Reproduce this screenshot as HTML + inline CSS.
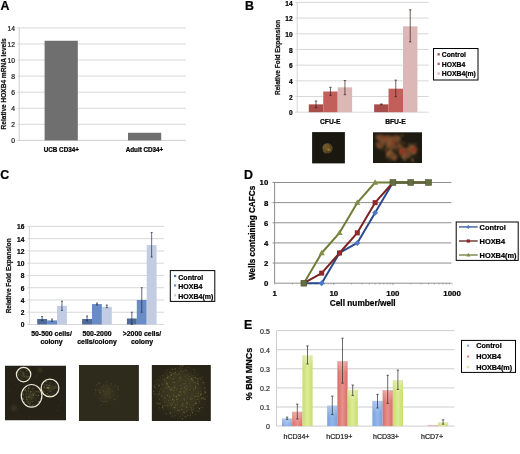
<!DOCTYPE html>
<html><head><meta charset="utf-8"><style>
html,body{margin:0;padding:0;background:#fff;}
body{width:520px;height:454px;overflow:hidden;}
svg{display:block;font-family:"Liberation Sans", sans-serif;filter:blur(0.3px);}
</style></head><body>
<svg width="520" height="454" viewBox="0 0 520 454">
<rect width="520" height="454" fill="#fff"/>
<text x="0.6" y="10.1" font-size="12.4" font-weight="bold" text-anchor="start" fill="#000" stroke="#000" stroke-width="0.22">A</text>
<line x1="17.2" y1="140.4" x2="186" y2="140.4" stroke="#c8c8c8" stroke-width="0.9"/>
<text x="14.9" y="143.4" font-size="6.7" text-anchor="end" fill="#222" stroke="#222" stroke-width="0.22">0</text>
<line x1="17.2" y1="124.32857142857144" x2="186" y2="124.32857142857144" stroke="#d4d4d4" stroke-width="0.9"/>
<text x="14.9" y="127.32857142857144" font-size="6.7" text-anchor="end" fill="#222" stroke="#222" stroke-width="0.22">2</text>
<line x1="17.2" y1="108.25714285714287" x2="186" y2="108.25714285714287" stroke="#d4d4d4" stroke-width="0.9"/>
<text x="14.9" y="111.25714285714287" font-size="6.7" text-anchor="end" fill="#222" stroke="#222" stroke-width="0.22">4</text>
<line x1="17.2" y1="92.18571428571428" x2="186" y2="92.18571428571428" stroke="#d4d4d4" stroke-width="0.9"/>
<text x="14.9" y="95.18571428571428" font-size="6.7" text-anchor="end" fill="#222" stroke="#222" stroke-width="0.22">6</text>
<line x1="17.2" y1="76.11428571428571" x2="186" y2="76.11428571428571" stroke="#d4d4d4" stroke-width="0.9"/>
<text x="14.9" y="79.11428571428571" font-size="6.7" text-anchor="end" fill="#222" stroke="#222" stroke-width="0.22">8</text>
<line x1="17.2" y1="60.042857142857144" x2="186" y2="60.042857142857144" stroke="#d4d4d4" stroke-width="0.9"/>
<text x="14.9" y="63.042857142857144" font-size="6.7" text-anchor="end" fill="#222" stroke="#222" stroke-width="0.22">10</text>
<line x1="17.2" y1="43.97142857142856" x2="186" y2="43.97142857142856" stroke="#d4d4d4" stroke-width="0.9"/>
<text x="14.9" y="46.97142857142856" font-size="6.7" text-anchor="end" fill="#222" stroke="#222" stroke-width="0.22">12</text>
<line x1="17.2" y1="27.89999999999999" x2="186" y2="27.89999999999999" stroke="#d4d4d4" stroke-width="0.9"/>
<text x="14.9" y="30.89999999999999" font-size="6.7" text-anchor="end" fill="#222" stroke="#222" stroke-width="0.22">14</text>
<line x1="19.2" y1="27.9" x2="19.2" y2="140.4" stroke="#c8c8c8" stroke-width="0.9"/>
<rect x="44.6" y="40.75714285714285" width="33.2" height="99.64285714285715" fill="#6f6f6f"/>
<rect x="128" y="132.76607142857142" width="33.2" height="7.633928571428572" fill="#6f6f6f"/>
<text x="61.3" y="152.3" font-size="6.3" font-weight="bold" text-anchor="middle" fill="#000" stroke="#000" stroke-width="0.22">UCB CD34+</text>
<text x="144.5" y="152.4" font-size="6.3" font-weight="bold" text-anchor="middle" fill="#000" stroke="#000" stroke-width="0.22">Adult CD34+</text>
<text x="6.0" y="83.9" font-size="6.55" font-weight="bold" text-anchor="middle" fill="#111" stroke="#111" stroke-width="0.22" transform="rotate(-90 6.0 83.9)">Relative HOXB4 mRNA levels</text>
<text x="245.0" y="9.9" font-size="12.4" font-weight="bold" text-anchor="start" fill="#000" stroke="#000" stroke-width="0.22">B</text>
<line x1="295.2" y1="112.2" x2="428.75" y2="112.2" stroke="#d4d4d4" stroke-width="0.9"/>
<text x="292.6" y="115.4" font-size="6.6" font-weight="bold" text-anchor="end" fill="#000" stroke="#000" stroke-width="0.22">0</text>
<line x1="295.2" y1="96.51428571428572" x2="428.75" y2="96.51428571428572" stroke="#d4d4d4" stroke-width="0.9"/>
<text x="292.6" y="99.71428571428572" font-size="6.6" font-weight="bold" text-anchor="end" fill="#000" stroke="#000" stroke-width="0.22">2</text>
<line x1="295.2" y1="80.82857142857144" x2="428.75" y2="80.82857142857144" stroke="#d4d4d4" stroke-width="0.9"/>
<text x="292.6" y="84.02857142857144" font-size="6.6" font-weight="bold" text-anchor="end" fill="#000" stroke="#000" stroke-width="0.22">4</text>
<line x1="295.2" y1="65.14285714285714" x2="428.75" y2="65.14285714285714" stroke="#d4d4d4" stroke-width="0.9"/>
<text x="292.6" y="68.34285714285714" font-size="6.6" font-weight="bold" text-anchor="end" fill="#000" stroke="#000" stroke-width="0.22">6</text>
<line x1="295.2" y1="49.45714285714286" x2="428.75" y2="49.45714285714286" stroke="#d4d4d4" stroke-width="0.9"/>
<text x="292.6" y="52.657142857142865" font-size="6.6" font-weight="bold" text-anchor="end" fill="#000" stroke="#000" stroke-width="0.22">8</text>
<line x1="295.2" y1="33.77142857142857" x2="428.75" y2="33.77142857142857" stroke="#d4d4d4" stroke-width="0.9"/>
<text x="292.6" y="36.971428571428575" font-size="6.6" font-weight="bold" text-anchor="end" fill="#000" stroke="#000" stroke-width="0.22">10</text>
<line x1="295.2" y1="18.08571428571429" x2="428.75" y2="18.08571428571429" stroke="#d4d4d4" stroke-width="0.9"/>
<text x="292.6" y="21.28571428571429" font-size="6.6" font-weight="bold" text-anchor="end" fill="#000" stroke="#000" stroke-width="0.22">12</text>
<line x1="295.2" y1="2.4000000000000057" x2="428.75" y2="2.4000000000000057" stroke="#d4d4d4" stroke-width="0.9"/>
<text x="292.6" y="5.600000000000006" font-size="6.6" font-weight="bold" text-anchor="end" fill="#000" stroke="#000" stroke-width="0.22">14</text>
<line x1="297.2" y1="2.4" x2="297.2" y2="112.2" stroke="#d4d4d4" stroke-width="0.9"/>
<text x="279.8" y="57.4" font-size="6.5" font-weight="bold" text-anchor="middle" fill="#111" stroke="#111" stroke-width="0.22" transform="rotate(-90 279.8 57.4)">Relative Fold Expansion</text>
<rect x="308.8" y="104.35714285714286" width="14.45" height="7.8428571428571425" fill="#a84e4a"/>
<line x1="316.02500000000003" y1="100.98471428571429" x2="316.02500000000003" y2="107.72957142857143" stroke="#3a1a18" stroke-width="0.7"/>
<line x1="314.82500000000005" y1="100.98471428571429" x2="317.225" y2="100.98471428571429" stroke="#3a1a18" stroke-width="0.7"/>
<line x1="314.82500000000005" y1="107.72957142857143" x2="317.225" y2="107.72957142857143" stroke="#3a1a18" stroke-width="0.7"/>
<rect x="323.25" y="91.49485714285714" width="14.45" height="20.705142857142857" fill="#c25f5b"/>
<line x1="330.475" y1="87.33814285714286" x2="330.475" y2="95.41628571428572" stroke="#3a1a18" stroke-width="0.7"/>
<line x1="329.27500000000003" y1="87.33814285714286" x2="331.675" y2="87.33814285714286" stroke="#3a1a18" stroke-width="0.7"/>
<line x1="329.27500000000003" y1="95.41628571428572" x2="331.675" y2="95.41628571428572" stroke="#3a1a18" stroke-width="0.7"/>
<rect x="337.7" y="87.33814285714286" width="14.45" height="24.86185714285714" fill="#dbb7b6"/>
<line x1="344.925" y1="80.59328571428571" x2="344.925" y2="94.71042857142858" stroke="#3a1a18" stroke-width="0.7"/>
<line x1="343.725" y1="80.59328571428571" x2="346.125" y2="80.59328571428571" stroke="#3a1a18" stroke-width="0.7"/>
<line x1="343.725" y1="94.71042857142858" x2="346.125" y2="94.71042857142858" stroke="#3a1a18" stroke-width="0.7"/>
<rect x="374.1" y="104.35714285714286" width="14.45" height="7.8428571428571425" fill="#a84e4a"/>
<line x1="381.32500000000005" y1="103.965" x2="381.32500000000005" y2="104.74928571428572" stroke="#3a1a18" stroke-width="0.7"/>
<line x1="380.12500000000006" y1="103.965" x2="382.52500000000003" y2="103.965" stroke="#3a1a18" stroke-width="0.7"/>
<line x1="380.12500000000006" y1="104.74928571428572" x2="382.52500000000003" y2="104.74928571428572" stroke="#3a1a18" stroke-width="0.7"/>
<rect x="388.55" y="88.67142857142858" width="14.45" height="23.52857142857143" fill="#c25f5b"/>
<line x1="395.77500000000003" y1="80.1227142857143" x2="395.77500000000003" y2="96.5927142857143" stroke="#3a1a18" stroke-width="0.7"/>
<line x1="394.57500000000005" y1="80.1227142857143" x2="396.975" y2="80.1227142857143" stroke="#3a1a18" stroke-width="0.7"/>
<line x1="394.57500000000005" y1="96.5927142857143" x2="396.975" y2="96.5927142857143" stroke="#3a1a18" stroke-width="0.7"/>
<rect x="403.0" y="26.320714285714303" width="14.45" height="85.8792857142857" fill="#dbb7b6"/>
<line x1="410.225" y1="9.772285714285715" x2="410.225" y2="41.84957142857142" stroke="#3a1a18" stroke-width="0.7"/>
<line x1="409.02500000000003" y1="9.772285714285715" x2="411.425" y2="9.772285714285715" stroke="#3a1a18" stroke-width="0.7"/>
<line x1="409.02500000000003" y1="41.84957142857142" x2="411.425" y2="41.84957142857142" stroke="#3a1a18" stroke-width="0.7"/>
<text x="330.2" y="124.2" font-size="6.7" font-weight="bold" text-anchor="middle" fill="#000" stroke="#000" stroke-width="0.22">CFU-E</text>
<text x="395.4" y="124.2" font-size="6.7" font-weight="bold" text-anchor="middle" fill="#000" stroke="#000" stroke-width="0.22">BFU-E</text>
<rect x="433.5" y="48.5" width="44.5" height="31.5" fill="#fff" stroke="#000" stroke-width="1"/>
<rect x="437.5" y="53.2" width="2.3" height="2.3" fill="#a84e4a"/>
<text x="441.8" y="57.0" font-size="6.8" font-weight="bold" text-anchor="start" fill="#000" stroke="#000" stroke-width="0.22">Control</text>
<rect x="437.5" y="62.7" width="2.3" height="2.3" fill="#c25f5b"/>
<text x="441.8" y="66.5" font-size="6.8" font-weight="bold" text-anchor="start" fill="#000" stroke="#000" stroke-width="0.22">HOXB4</text>
<rect x="437.5" y="72.4" width="2.3" height="2.3" fill="#dbb7b6"/>
<text x="441.8" y="76.2" font-size="6.8" font-weight="bold" text-anchor="start" fill="#000" stroke="#000" stroke-width="0.22">HOXB4(m)</text>
<defs>
<radialGradient id="cfu" cx="0.5" cy="0.5" r="0.5"><stop offset="0" stop-color="#9a8840"/><stop offset="0.6" stop-color="#7c6a30"/><stop offset="1" stop-color="#1a1610" stop-opacity="0"/></radialGradient>
<radialGradient id="bfu1" cx="0.5" cy="0.5" r="0.5"><stop offset="0" stop-color="#8a4a28"/><stop offset="0.7" stop-color="#6a3a20"/><stop offset="1" stop-color="#1e1a12" stop-opacity="0"/></radialGradient>
<radialGradient id="bfu2" cx="0.5" cy="0.5" r="0.5"><stop offset="0" stop-color="#c02a18"/><stop offset="0.6" stop-color="#8a3020"/><stop offset="1" stop-color="#1e1a12" stop-opacity="0"/></radialGradient>
<radialGradient id="c2" cx="0.5" cy="0.5" r="0.5"><stop offset="0" stop-color="#423e24"/><stop offset="1" stop-color="#2f2b1c" stop-opacity="0"/></radialGradient>
<radialGradient id="c3" cx="0.5" cy="0.5" r="0.5"><stop offset="0" stop-color="#3e3a22"/><stop offset="0.6" stop-color="#38341f"/><stop offset="1" stop-color="#282417" stop-opacity="0"/></radialGradient>
<radialGradient id="c1b" cx="0.5" cy="0.5" r="0.5"><stop offset="0" stop-color="#3e3c24"/><stop offset="1" stop-color="#29251a" stop-opacity="0"/></radialGradient>
<linearGradient id="eb" x1="0" x2="1"><stop offset="0" stop-color="#7aa2dc"/><stop offset="0.5" stop-color="#93b7ec"/><stop offset="1" stop-color="#7aa2dc"/></linearGradient>
<linearGradient id="er" x1="0" x2="1"><stop offset="0" stop-color="#d86e68"/><stop offset="0.5" stop-color="#e8908a"/><stop offset="1" stop-color="#d86e68"/></linearGradient>
<linearGradient id="eg" x1="0" x2="1"><stop offset="0" stop-color="#c8dc70"/><stop offset="0.5" stop-color="#dcec96"/><stop offset="1" stop-color="#c8dc70"/></linearGradient>
</defs>
<rect x="312.1" y="132.1" width="32.8" height="31.3" fill="#1a1610"/>
<defs><filter id="bl2" x="-20%" y="-20%" width="140%" height="140%"><feGaussianBlur stdDeviation="0.8"/></filter><filter id="bl3" x="-20%" y="-20%" width="140%" height="140%"><feGaussianBlur stdDeviation="0.5"/></filter><clipPath id="mb1"><rect x="312.1" y="132.1" width="32.8" height="31.3"/></clipPath><clipPath id="mb2"><rect x="373" y="132.3" width="49" height="30.7"/></clipPath></defs>
<g clip-path="url(#mb1)" filter="url(#bl3)">
<circle cx="327.5" cy="148.2" r="5.2" fill="#504020"/>
<circle cx="326.5" cy="147.2" r="3.4" fill="#665428"/>
<circle cx="329" cy="149.5" r="1.8" fill="#74602c"/>
<circle cx="324.8" cy="150.2" r="1.5" fill="#625024"/>
<circle cx="324.6" cy="149.0" r="1.05" fill="#4a3818" fill-opacity="0.53"/>
<circle cx="327.9" cy="147.4" r="0.98" fill="#4a3818" fill-opacity="0.61"/>
<circle cx="327.4" cy="147.7" r="0.68" fill="#8a6e30" fill-opacity="0.57"/>
<circle cx="329.7" cy="146.2" r="0.86" fill="#4a3818" fill-opacity="0.78"/>
<circle cx="325.6" cy="145.7" r="0.59" fill="#8a6e30" fill-opacity="0.72"/>
<circle cx="327.5" cy="148.3" r="1.03" fill="#8a6e30" fill-opacity="0.69"/>
<circle cx="325.9" cy="150.8" r="0.62" fill="#7a5a26" fill-opacity="0.62"/>
<circle cx="324.0" cy="148.2" r="0.77" fill="#9a7e3a" fill-opacity="0.50"/>
<circle cx="322.9" cy="146.7" r="0.55" fill="#9a7e3a" fill-opacity="0.46"/>
<circle cx="327.5" cy="149.6" r="0.54" fill="#8a6e30" fill-opacity="0.50"/>
<circle cx="328.4" cy="146.6" r="1.07" fill="#8a6e30" fill-opacity="0.41"/>
<circle cx="327.5" cy="148.1" r="0.73" fill="#4a3818" fill-opacity="0.51"/>
<circle cx="326.4" cy="147.8" r="0.90" fill="#9a7e3a" fill-opacity="0.34"/>
<circle cx="324.9" cy="152.4" r="0.95" fill="#8a6e30" fill-opacity="0.37"/>
<circle cx="327.3" cy="148.1" r="0.78" fill="#4a3818" fill-opacity="0.39"/>
<circle cx="325.2" cy="147.4" r="0.61" fill="#7a5a26" fill-opacity="0.51"/>
<circle cx="325.8" cy="149.5" r="1.09" fill="#8a6e30" fill-opacity="0.43"/>
<circle cx="331.3" cy="147.5" r="0.68" fill="#8a6e30" fill-opacity="0.41"/>
<circle cx="323.9" cy="150.8" r="0.89" fill="#8a6e30" fill-opacity="0.32"/>
<circle cx="328.6" cy="150.0" r="0.51" fill="#9a7e3a" fill-opacity="0.72"/>
<circle cx="327.0" cy="148.4" r="0.63" fill="#7a5a26" fill-opacity="0.31"/>
<circle cx="325.2" cy="150.5" r="0.58" fill="#4a3818" fill-opacity="0.72"/>
<circle cx="328.6" cy="149.7" r="0.88" fill="#9a7e3a" fill-opacity="0.75"/>
<circle cx="327.8" cy="147.1" r="0.61" fill="#7a5a26" fill-opacity="0.64"/>
<circle cx="325.5" cy="149.8" r="0.55" fill="#8a6e30" fill-opacity="0.35"/>
<circle cx="332.0" cy="149.4" r="0.64" fill="#4a3818" fill-opacity="0.43"/>
<circle cx="328.6" cy="145.5" r="0.68" fill="#7a5a26" fill-opacity="0.76"/>
<circle cx="327.9" cy="148.1" r="0.79" fill="#8a6e30" fill-opacity="0.44"/>
</g>
<rect x="373" y="132.3" width="49" height="30.7" fill="#1e1a12"/>
<g clip-path="url(#mb2)" filter="url(#bl2)">
<ellipse cx="381" cy="138" rx="5" ry="3.5" fill="#6e4428" fill-opacity="0.95"/>
<ellipse cx="388" cy="140" rx="6" ry="5" fill="#6e4428" fill-opacity="0.95"/>
<ellipse cx="396" cy="139" rx="5" ry="4" fill="#6e4428" fill-opacity="0.95"/>
<ellipse cx="380" cy="145" rx="4" ry="3.5" fill="#6e4428" fill-opacity="0.95"/>
<ellipse cx="391" cy="146" rx="5" ry="3.5" fill="#6e4428" fill-opacity="0.95"/>
<ellipse cx="399" cy="146" rx="3" ry="3" fill="#6e4428" fill-opacity="0.95"/>
<ellipse cx="390" cy="154" rx="4" ry="4" fill="#6e4428" fill-opacity="0.95"/>
<ellipse cx="394" cy="157" rx="3.5" ry="3.5" fill="#6e4428" fill-opacity="0.95"/>
<ellipse cx="403" cy="152" rx="4" ry="5.5" fill="#6e4428" fill-opacity="0.95"/>
<ellipse cx="412" cy="150" rx="5.5" ry="5" fill="#6e4428" fill-opacity="0.95"/>
<ellipse cx="408" cy="155" rx="3" ry="3" fill="#6e4428" fill-opacity="0.95"/>
<circle cx="386.0" cy="148.7" r="0.80" fill="#b07a44" fill-opacity="0.40"/>
<circle cx="402.3" cy="135.8" r="0.51" fill="#b07a44" fill-opacity="0.52"/>
<circle cx="386.9" cy="140.3" r="1.30" fill="#b07a44" fill-opacity="0.34"/>
<circle cx="411.1" cy="146.9" r="1.01" fill="#b07a44" fill-opacity="0.18"/>
<circle cx="402.7" cy="157.4" r="0.92" fill="#b07a44" fill-opacity="0.47"/>
<circle cx="407.8" cy="150.0" r="0.74" fill="#b07a44" fill-opacity="0.12"/>
<circle cx="412.4" cy="146.8" r="1.08" fill="#b07a44" fill-opacity="0.54"/>
<circle cx="406.0" cy="158.9" r="0.82" fill="#b07a44" fill-opacity="0.50"/>
<circle cx="394.7" cy="159.3" r="1.20" fill="#b07a44" fill-opacity="0.15"/>
<circle cx="381.7" cy="139.9" r="1.27" fill="#b07a44" fill-opacity="0.32"/>
<circle cx="402.3" cy="142.1" r="0.91" fill="#b07a44" fill-opacity="0.29"/>
<circle cx="390.7" cy="149.8" r="0.97" fill="#b07a44" fill-opacity="0.55"/>
<circle cx="404.6" cy="159.1" r="1.19" fill="#b07a44" fill-opacity="0.60"/>
<circle cx="412.1" cy="160.0" r="1.22" fill="#b07a44" fill-opacity="0.38"/>
<circle cx="410.9" cy="149.5" r="0.73" fill="#b07a44" fill-opacity="0.13"/>
<circle cx="411.9" cy="160.7" r="0.57" fill="#b07a44" fill-opacity="0.50"/>
<circle cx="393.2" cy="138.1" r="0.74" fill="#b07a44" fill-opacity="0.48"/>
<circle cx="401.8" cy="135.2" r="1.07" fill="#b07a44" fill-opacity="0.27"/>
<circle cx="413.0" cy="160.5" r="0.90" fill="#b07a44" fill-opacity="0.60"/>
<circle cx="389.0" cy="136.1" r="0.98" fill="#b07a44" fill-opacity="0.12"/>
<circle cx="384.3" cy="145.0" r="0.99" fill="#b07a44" fill-opacity="0.18"/>
<circle cx="389.2" cy="159.9" r="1.22" fill="#b07a44" fill-opacity="0.29"/>
<circle cx="395.3" cy="148.0" r="1.02" fill="#b07a44" fill-opacity="0.40"/>
<circle cx="399.5" cy="150.7" r="1.25" fill="#b07a44" fill-opacity="0.35"/>
<circle cx="394.1" cy="153.4" r="0.69" fill="#b07a44" fill-opacity="0.25"/>
<circle cx="417.1" cy="148.1" r="0.94" fill="#b07a44" fill-opacity="0.11"/>
<circle cx="393.4" cy="149.7" r="0.52" fill="#b07a44" fill-opacity="0.41"/>
<circle cx="402.6" cy="135.6" r="1.00" fill="#b07a44" fill-opacity="0.33"/>
<circle cx="404.5" cy="143.5" r="1.07" fill="#b07a44" fill-opacity="0.47"/>
<circle cx="376.9" cy="135.6" r="1.04" fill="#b07a44" fill-opacity="0.58"/>
<circle cx="386.5" cy="146.3" r="0.97" fill="#b07a44" fill-opacity="0.26"/>
<circle cx="391.3" cy="142.4" r="0.80" fill="#b07a44" fill-opacity="0.40"/>
<circle cx="388.6" cy="144.2" r="1.12" fill="#b07a44" fill-opacity="0.11"/>
<circle cx="399.9" cy="153.8" r="0.75" fill="#b07a44" fill-opacity="0.21"/>
<circle cx="383.9" cy="145.8" r="1.06" fill="#b07a44" fill-opacity="0.15"/>
<circle cx="389.5" cy="143.0" r="1.17" fill="#b07a44" fill-opacity="0.32"/>
<circle cx="390.1" cy="151.6" r="1.21" fill="#b07a44" fill-opacity="0.33"/>
<circle cx="385.5" cy="137.3" r="0.92" fill="#b07a44" fill-opacity="0.20"/>
<circle cx="409.9" cy="156.6" r="0.65" fill="#b07a44" fill-opacity="0.24"/>
<circle cx="409.9" cy="151.3" r="1.15" fill="#b07a44" fill-opacity="0.27"/>
<circle cx="381.4" cy="141.9" r="1.14" fill="#b07a44" fill-opacity="0.24"/>
<circle cx="390.5" cy="145.3" r="0.84" fill="#b07a44" fill-opacity="0.30"/>
<circle cx="413.0" cy="160.6" r="0.85" fill="#b07a44" fill-opacity="0.58"/>
<circle cx="407.3" cy="156.6" r="1.03" fill="#b07a44" fill-opacity="0.36"/>
<circle cx="388.1" cy="143.2" r="0.68" fill="#b07a44" fill-opacity="0.13"/>
<circle cx="400.7" cy="141.7" r="1.15" fill="#b07a44" fill-opacity="0.12"/>
<circle cx="414.0" cy="152.7" r="1.24" fill="#b07a44" fill-opacity="0.55"/>
<circle cx="413.8" cy="149.6" r="0.51" fill="#b07a44" fill-opacity="0.47"/>
<circle cx="383.2" cy="142.1" r="1.03" fill="#b07a44" fill-opacity="0.36"/>
<circle cx="393.4" cy="159.4" r="0.99" fill="#b07a44" fill-opacity="0.27"/>
<circle cx="386.6" cy="157.3" r="0.88" fill="#b07a44" fill-opacity="0.49"/>
<circle cx="390.8" cy="139.3" r="0.93" fill="#b07a44" fill-opacity="0.51"/>
<circle cx="414.7" cy="155.8" r="1.16" fill="#b07a44" fill-opacity="0.10"/>
<circle cx="402.4" cy="157.3" r="0.54" fill="#b07a44" fill-opacity="0.24"/>
<circle cx="387.3" cy="148.2" r="0.84" fill="#b07a44" fill-opacity="0.34"/>
<circle cx="378.3" cy="137.4" r="0.60" fill="#b07a44" fill-opacity="0.13"/>
<circle cx="416.9" cy="157.1" r="0.57" fill="#b07a44" fill-opacity="0.35"/>
<circle cx="389.3" cy="142.5" r="0.78" fill="#b07a44" fill-opacity="0.42"/>
<circle cx="400.6" cy="143.7" r="0.65" fill="#b07a44" fill-opacity="0.26"/>
<circle cx="381.2" cy="149.0" r="1.07" fill="#b07a44" fill-opacity="0.29"/>
<circle cx="379.4" cy="138.8" r="0.80" fill="#b07a44" fill-opacity="0.40"/>
<circle cx="408.9" cy="144.3" r="1.14" fill="#b07a44" fill-opacity="0.41"/>
<circle cx="394.1" cy="144.1" r="0.90" fill="#b07a44" fill-opacity="0.45"/>
<circle cx="393.7" cy="152.7" r="0.87" fill="#b07a44" fill-opacity="0.22"/>
<circle cx="398.5" cy="152.8" r="0.56" fill="#b07a44" fill-opacity="0.31"/>
<circle cx="393.9" cy="157.8" r="1.25" fill="#b07a44" fill-opacity="0.29"/>
<circle cx="413.7" cy="155.4" r="0.71" fill="#b07a44" fill-opacity="0.33"/>
<circle cx="403.8" cy="158.0" r="1.13" fill="#b07a44" fill-opacity="0.43"/>
<circle cx="406.8" cy="149.2" r="0.58" fill="#b07a44" fill-opacity="0.39"/>
<circle cx="376.2" cy="137.9" r="1.12" fill="#b07a44" fill-opacity="0.12"/>
<circle cx="379.9" cy="136.7" r="1.20" fill="#b07a44" fill-opacity="0.19"/>
<circle cx="404.3" cy="156.6" r="1.26" fill="#b07a44" fill-opacity="0.39"/>
<circle cx="408.2" cy="147.8" r="1.07" fill="#b07a44" fill-opacity="0.15"/>
<circle cx="407.5" cy="159.2" r="0.55" fill="#b07a44" fill-opacity="0.26"/>
<circle cx="399.7" cy="156.4" r="0.69" fill="#b07a44" fill-opacity="0.19"/>
<circle cx="386.5" cy="150.6" r="1.10" fill="#b07a44" fill-opacity="0.30"/>
<circle cx="391.4" cy="144.7" r="0.78" fill="#b07a44" fill-opacity="0.31"/>
<circle cx="379.5" cy="147.5" r="1.28" fill="#b07a44" fill-opacity="0.31"/>
<circle cx="405.0" cy="154.4" r="1.04" fill="#b07a44" fill-opacity="0.36"/>
<circle cx="396.3" cy="151.4" r="1.22" fill="#b07a44" fill-opacity="0.17"/>
<circle cx="414.5" cy="148.0" r="0.85" fill="#b07a44" fill-opacity="0.46"/>
<circle cx="383.8" cy="141.2" r="0.66" fill="#b07a44" fill-opacity="0.39"/>
<circle cx="389.2" cy="140.3" r="1.05" fill="#b07a44" fill-opacity="0.58"/>
<circle cx="388.4" cy="153.0" r="0.83" fill="#b07a44" fill-opacity="0.53"/>
<circle cx="400.6" cy="141.2" r="0.67" fill="#b07a44" fill-opacity="0.11"/>
<circle cx="396.1" cy="144.3" r="0.64" fill="#b07a44" fill-opacity="0.28"/>
<circle cx="389.5" cy="154.9" r="0.61" fill="#b07a44" fill-opacity="0.60"/>
<circle cx="396.1" cy="150.2" r="0.87" fill="#b07a44" fill-opacity="0.52"/>
<circle cx="410.5" cy="149.0" r="0.89" fill="#b07a44" fill-opacity="0.46"/>
<circle cx="412.0" cy="144.8" r="1.09" fill="#b07a44" fill-opacity="0.58"/>
<circle cx="395.6" cy="140.2" r="0.69" fill="#b07a44" fill-opacity="0.46"/>
<circle cx="404.4" cy="159.9" r="1.18" fill="#b07a44" fill-opacity="0.22"/>
<circle cx="384.0" cy="141.0" r="0.65" fill="#b07a44" fill-opacity="0.45"/>
<circle cx="412.1" cy="158.3" r="0.70" fill="#b07a44" fill-opacity="0.53"/>
<circle cx="389.2" cy="145.4" r="1.08" fill="#b07a44" fill-opacity="0.14"/>
<circle cx="388.3" cy="143.6" r="0.96" fill="#b07a44" fill-opacity="0.44"/>
<circle cx="376.3" cy="143.0" r="0.85" fill="#b07a44" fill-opacity="0.34"/>
<circle cx="384.8" cy="149.8" r="1.26" fill="#b07a44" fill-opacity="0.30"/>
<circle cx="398.9" cy="137.2" r="0.72" fill="#b07a44" fill-opacity="0.43"/>
<circle cx="415.5" cy="144.1" r="1.12" fill="#b07a44" fill-opacity="0.48"/>
<circle cx="388.4" cy="152.2" r="1.02" fill="#b07a44" fill-opacity="0.50"/>
<circle cx="387.2" cy="154.4" r="1.27" fill="#b07a44" fill-opacity="0.44"/>
<circle cx="398.5" cy="137.1" r="0.90" fill="#b07a44" fill-opacity="0.28"/>
<circle cx="406.2" cy="152.3" r="0.95" fill="#b07a44" fill-opacity="0.19"/>
<circle cx="403.1" cy="151.0" r="0.64" fill="#b07a44" fill-opacity="0.54"/>
<circle cx="389.9" cy="153.5" r="0.98" fill="#b07a44" fill-opacity="0.38"/>
<circle cx="403.2" cy="146.4" r="0.75" fill="#b07a44" fill-opacity="0.19"/>
<circle cx="407.7" cy="148.7" r="1.09" fill="#b07a44" fill-opacity="0.28"/>
<circle cx="387.2" cy="144.4" r="1.20" fill="#b07a44" fill-opacity="0.12"/>
<circle cx="397.2" cy="140.7" r="1.12" fill="#b07a44" fill-opacity="0.28"/>
<circle cx="413.5" cy="149.5" r="2.4" fill="#a82e1e" fill-opacity="0.85"/>
<circle cx="402.5" cy="151.5" r="2.4" fill="#a82e1e" fill-opacity="0.85"/>
<circle cx="393" cy="143" r="1.4" fill="#a82e1e" fill-opacity="0.85"/>
<circle cx="386" cy="139" r="1.2" fill="#a82e1e" fill-opacity="0.85"/>
</g>
<text x="0.3" y="179.2" font-size="12.4" font-weight="bold" text-anchor="start" fill="#000" stroke="#000" stroke-width="0.22">C</text>
<line x1="27.4" y1="324.5" x2="164.25" y2="324.5" stroke="#d4d4d4" stroke-width="0.9"/>
<text x="24.4" y="327.4" font-size="6.6" font-weight="bold" text-anchor="end" fill="#000" stroke="#000" stroke-width="0.22">0</text>
<line x1="27.4" y1="312.2375" x2="164.25" y2="312.2375" stroke="#d4d4d4" stroke-width="0.9"/>
<text x="24.4" y="315.1375" font-size="6.6" font-weight="bold" text-anchor="end" fill="#000" stroke="#000" stroke-width="0.22">2</text>
<line x1="27.4" y1="299.975" x2="164.25" y2="299.975" stroke="#d4d4d4" stroke-width="0.9"/>
<text x="24.4" y="302.875" font-size="6.6" font-weight="bold" text-anchor="end" fill="#000" stroke="#000" stroke-width="0.22">4</text>
<line x1="27.4" y1="287.7125" x2="164.25" y2="287.7125" stroke="#d4d4d4" stroke-width="0.9"/>
<text x="24.4" y="290.61249999999995" font-size="6.6" font-weight="bold" text-anchor="end" fill="#000" stroke="#000" stroke-width="0.22">6</text>
<line x1="27.4" y1="275.45" x2="164.25" y2="275.45" stroke="#d4d4d4" stroke-width="0.9"/>
<text x="24.4" y="278.34999999999997" font-size="6.6" font-weight="bold" text-anchor="end" fill="#000" stroke="#000" stroke-width="0.22">8</text>
<line x1="27.4" y1="263.1875" x2="164.25" y2="263.1875" stroke="#d4d4d4" stroke-width="0.9"/>
<text x="24.4" y="266.0875" font-size="6.6" font-weight="bold" text-anchor="end" fill="#000" stroke="#000" stroke-width="0.22">10</text>
<line x1="27.4" y1="250.925" x2="164.25" y2="250.925" stroke="#d4d4d4" stroke-width="0.9"/>
<text x="24.4" y="253.82500000000002" font-size="6.6" font-weight="bold" text-anchor="end" fill="#000" stroke="#000" stroke-width="0.22">12</text>
<line x1="27.4" y1="238.66250000000002" x2="164.25" y2="238.66250000000002" stroke="#d4d4d4" stroke-width="0.9"/>
<text x="24.4" y="241.56250000000003" font-size="6.6" font-weight="bold" text-anchor="end" fill="#000" stroke="#000" stroke-width="0.22">14</text>
<line x1="27.4" y1="226.4" x2="164.25" y2="226.4" stroke="#d4d4d4" stroke-width="0.9"/>
<text x="24.4" y="229.3" font-size="6.6" font-weight="bold" text-anchor="end" fill="#000" stroke="#000" stroke-width="0.22">16</text>
<line x1="29.4" y1="226.4" x2="29.4" y2="324.5" stroke="#d4d4d4" stroke-width="0.9"/>
<text x="10.6" y="275.8" font-size="6.5" font-weight="bold" text-anchor="middle" fill="#111" stroke="#111" stroke-width="0.22" transform="rotate(-90 10.6 275.8)">Relative Fold Expansion</text>
<rect x="37.2" y="318.981875" width="9.9" height="5.5181249999999995" fill="#4f6b9c"/>
<line x1="42.150000000000006" y1="316.529375" x2="42.150000000000006" y2="320.5146875" stroke="#1e2a48" stroke-width="0.7"/>
<line x1="41.150000000000006" y1="316.529375" x2="43.150000000000006" y2="316.529375" stroke="#1e2a48" stroke-width="0.7"/>
<line x1="41.150000000000006" y1="320.5146875" x2="43.150000000000006" y2="320.5146875" stroke="#1e2a48" stroke-width="0.7"/>
<rect x="47.1" y="320.3920625" width="9.9" height="4.1079375" fill="#6a8cc6"/>
<line x1="52.050000000000004" y1="318.981875" x2="52.050000000000004" y2="321.434375" stroke="#1e2a48" stroke-width="0.7"/>
<line x1="51.050000000000004" y1="318.981875" x2="53.050000000000004" y2="318.981875" stroke="#1e2a48" stroke-width="0.7"/>
<line x1="51.050000000000004" y1="321.434375" x2="53.050000000000004" y2="321.434375" stroke="#1e2a48" stroke-width="0.7"/>
<rect x="57.0" y="305.7996875" width="9.9" height="18.7003125" fill="#c2cce2"/>
<line x1="61.95" y1="301.20125" x2="61.95" y2="310.398125" stroke="#1e2a48" stroke-width="0.7"/>
<line x1="60.95" y1="301.20125" x2="62.95" y2="301.20125" stroke="#1e2a48" stroke-width="0.7"/>
<line x1="60.95" y1="310.398125" x2="62.95" y2="310.398125" stroke="#1e2a48" stroke-width="0.7"/>
<rect x="82.1" y="318.981875" width="9.9" height="5.5181249999999995" fill="#4f6b9c"/>
<line x1="87.05" y1="315.9775625" x2="87.05" y2="320.82125" stroke="#1e2a48" stroke-width="0.7"/>
<line x1="86.05" y1="315.9775625" x2="88.05" y2="315.9775625" stroke="#1e2a48" stroke-width="0.7"/>
<line x1="86.05" y1="320.82125" x2="88.05" y2="320.82125" stroke="#1e2a48" stroke-width="0.7"/>
<rect x="92.0" y="304.0829375" width="9.9" height="20.4170625" fill="#6a8cc6"/>
<line x1="96.95" y1="303.040625" x2="96.95" y2="305.002625" stroke="#1e2a48" stroke-width="0.7"/>
<line x1="95.95" y1="303.040625" x2="97.95" y2="303.040625" stroke="#1e2a48" stroke-width="0.7"/>
<line x1="95.95" y1="305.002625" x2="97.95" y2="305.002625" stroke="#1e2a48" stroke-width="0.7"/>
<rect x="101.89999999999999" y="306.9033125" width="9.9" height="17.596687499999998" fill="#c2cce2"/>
<line x1="106.85" y1="305.002625" x2="106.85" y2="307.700375" stroke="#1e2a48" stroke-width="0.7"/>
<line x1="105.85" y1="305.002625" x2="107.85" y2="305.002625" stroke="#1e2a48" stroke-width="0.7"/>
<line x1="105.85" y1="307.700375" x2="107.85" y2="307.700375" stroke="#1e2a48" stroke-width="0.7"/>
<rect x="126.9" y="318.491375" width="9.9" height="6.008624999999999" fill="#4f6b9c"/>
<line x1="131.85" y1="312.2375" x2="131.85" y2="324.377375" stroke="#1e2a48" stroke-width="0.7"/>
<line x1="130.85" y1="312.2375" x2="132.85" y2="312.2375" stroke="#1e2a48" stroke-width="0.7"/>
<line x1="130.85" y1="324.377375" x2="132.85" y2="324.377375" stroke="#1e2a48" stroke-width="0.7"/>
<rect x="136.8" y="299.975" width="9.9" height="24.525" fill="#6a8cc6"/>
<line x1="141.75" y1="287.7125" x2="141.75" y2="312.2375" stroke="#1e2a48" stroke-width="0.7"/>
<line x1="140.75" y1="287.7125" x2="142.75" y2="287.7125" stroke="#1e2a48" stroke-width="0.7"/>
<line x1="140.75" y1="312.2375" x2="142.75" y2="312.2375" stroke="#1e2a48" stroke-width="0.7"/>
<rect x="146.70000000000002" y="245.10031250000003" width="9.9" height="79.39968749999998" fill="#c2cce2"/>
<line x1="151.65" y1="232.53125" x2="151.65" y2="257.05625" stroke="#1e2a48" stroke-width="0.7"/>
<line x1="150.65" y1="232.53125" x2="152.65" y2="232.53125" stroke="#1e2a48" stroke-width="0.7"/>
<line x1="150.65" y1="257.05625" x2="152.65" y2="257.05625" stroke="#1e2a48" stroke-width="0.7"/>
<text x="51.5" y="336.2" font-size="6.9" font-weight="bold" text-anchor="middle" fill="#000" stroke="#000" stroke-width="0.22">50-500 cells/</text>
<text x="51.5" y="343.6" font-size="6.9" font-weight="bold" text-anchor="middle" fill="#000" stroke="#000" stroke-width="0.22">colony</text>
<text x="97" y="336.2" font-size="6.9" font-weight="bold" text-anchor="middle" fill="#000" stroke="#000" stroke-width="0.22">500-2000</text>
<text x="97" y="343.6" font-size="6.9" font-weight="bold" text-anchor="middle" fill="#000" stroke="#000" stroke-width="0.22">cells/colony</text>
<text x="142" y="336.2" font-size="6.9" font-weight="bold" text-anchor="middle" fill="#000" stroke="#000" stroke-width="0.22">&gt;2000 cells/</text>
<text x="142" y="343.6" font-size="6.9" font-weight="bold" text-anchor="middle" fill="#000" stroke="#000" stroke-width="0.22">colony</text>
<rect x="170.3" y="270.6" width="44.5" height="30.8" fill="#fff" stroke="#000" stroke-width="1"/>
<rect x="174.0" y="274.90000000000003" width="2.2" height="2.2" fill="#4f6b9c"/>
<text x="178.3" y="279.5" font-size="7.0" font-weight="bold" text-anchor="start" fill="#000" stroke="#000" stroke-width="0.22">Control</text>
<rect x="174.0" y="284.3" width="2.2" height="2.2" fill="#6a8cc6"/>
<text x="178.3" y="288.9" font-size="7.0" font-weight="bold" text-anchor="start" fill="#000" stroke="#000" stroke-width="0.22">HOXB4</text>
<rect x="174.0" y="294.2" width="2.2" height="2.2" fill="#c2cce2"/>
<text x="178.3" y="298.79999999999995" font-size="7.0" font-weight="bold" text-anchor="start" fill="#000" stroke="#000" stroke-width="0.22">HOXB4(m)</text>
<defs><clipPath id="m1"><rect x="4.9" y="365.5" width="61.1" height="55"/></clipPath><clipPath id="m2"><rect x="78.9" y="365" width="60" height="56"/></clipPath><clipPath id="m3"><rect x="151.6" y="365" width="59.3" height="56"/></clipPath><filter id="bl" x="-10%" y="-10%" width="120%" height="120%"><feGaussianBlur stdDeviation="0.45"/></filter></defs>
<g clip-path="url(#m1)">
<rect x="4.9" y="365.5" width="61.1" height="55" fill="#262218"/>
<circle cx="31" cy="396" r="11" fill="url(#c1b)"/>
<circle cx="50" cy="388" r="9" fill="url(#c1b)"/>
<circle cx="23" cy="375" r="7" fill="url(#c1b)"/>
<circle cx="14" cy="408" r="6" fill="url(#c1b)"/>
<circle cx="40" cy="370" r="5" fill="url(#c1b)"/>
<g filter="url(#bl)">
<circle cx="28.1" cy="388.8" r="0.64" fill="#a8a858" fill-opacity="0.28"/>
<circle cx="32.3" cy="393.1" r="0.38" fill="#a8a858" fill-opacity="0.43"/>
<circle cx="22.3" cy="394.5" r="0.38" fill="#a8a858" fill-opacity="0.28"/>
<circle cx="30.1" cy="402.3" r="0.41" fill="#a8a858" fill-opacity="0.33"/>
<circle cx="34.1" cy="404.8" r="0.61" fill="#a8a858" fill-opacity="0.39"/>
<circle cx="38.8" cy="391.6" r="0.41" fill="#a8a858" fill-opacity="0.29"/>
<circle cx="27.8" cy="402.1" r="0.43" fill="#a8a858" fill-opacity="0.45"/>
<circle cx="34.4" cy="393.2" r="0.60" fill="#a8a858" fill-opacity="0.27"/>
<circle cx="35.2" cy="394.4" r="0.49" fill="#a8a858" fill-opacity="0.45"/>
<circle cx="30.7" cy="391.8" r="0.71" fill="#a8a858" fill-opacity="0.49"/>
<circle cx="26.5" cy="397.3" r="0.59" fill="#a8a858" fill-opacity="0.56"/>
<circle cx="36.2" cy="391.6" r="0.79" fill="#a8a858" fill-opacity="0.29"/>
<circle cx="30.0" cy="400.9" r="0.42" fill="#a8a858" fill-opacity="0.42"/>
<circle cx="22.4" cy="399.2" r="0.69" fill="#a8a858" fill-opacity="0.45"/>
<circle cx="39.1" cy="392.1" r="0.66" fill="#a8a858" fill-opacity="0.46"/>
<circle cx="33.2" cy="394.9" r="0.73" fill="#a8a858" fill-opacity="0.58"/>
<circle cx="31.1" cy="399.1" r="0.38" fill="#a8a858" fill-opacity="0.50"/>
<circle cx="38.0" cy="391.5" r="0.52" fill="#a8a858" fill-opacity="0.48"/>
<circle cx="22.1" cy="395.0" r="0.43" fill="#a8a858" fill-opacity="0.29"/>
<circle cx="24.2" cy="390.8" r="0.53" fill="#a8a858" fill-opacity="0.55"/>
<circle cx="23.2" cy="394.8" r="0.60" fill="#a8a858" fill-opacity="0.56"/>
<circle cx="38.0" cy="403.1" r="0.48" fill="#a8a858" fill-opacity="0.40"/>
<circle cx="28.8" cy="403.5" r="0.78" fill="#a8a858" fill-opacity="0.30"/>
<circle cx="25.1" cy="390.4" r="0.46" fill="#a8a858" fill-opacity="0.42"/>
<circle cx="33.4" cy="391.1" r="0.35" fill="#a8a858" fill-opacity="0.40"/>
<circle cx="29.0" cy="397.1" r="0.78" fill="#a8a858" fill-opacity="0.49"/>
<circle cx="31.9" cy="398.2" r="0.65" fill="#a8a858" fill-opacity="0.27"/>
<circle cx="39.6" cy="401.4" r="0.74" fill="#a8a858" fill-opacity="0.53"/>
<circle cx="29.4" cy="393.8" r="0.40" fill="#a8a858" fill-opacity="0.47"/>
<circle cx="25.8" cy="389.0" r="0.50" fill="#a8a858" fill-opacity="0.27"/>
<circle cx="23.6" cy="393.1" r="0.36" fill="#a8a858" fill-opacity="0.56"/>
<circle cx="33.9" cy="388.8" r="0.46" fill="#a8a858" fill-opacity="0.37"/>
<circle cx="28.9" cy="388.3" r="0.73" fill="#a8a858" fill-opacity="0.60"/>
<circle cx="30.9" cy="395.5" r="0.39" fill="#a8a858" fill-opacity="0.29"/>
<circle cx="28.5" cy="391.1" r="0.72" fill="#a8a858" fill-opacity="0.31"/>
<circle cx="32.2" cy="388.7" r="0.59" fill="#a8a858" fill-opacity="0.26"/>
<circle cx="32.2" cy="405.4" r="0.74" fill="#a8a858" fill-opacity="0.49"/>
<circle cx="26.8" cy="393.1" r="0.43" fill="#a8a858" fill-opacity="0.52"/>
<circle cx="32.3" cy="401.4" r="0.50" fill="#a8a858" fill-opacity="0.33"/>
<circle cx="38.7" cy="401.9" r="0.72" fill="#a8a858" fill-opacity="0.51"/>
<circle cx="26.1" cy="396.2" r="0.51" fill="#a8a858" fill-opacity="0.26"/>
<circle cx="26.8" cy="399.7" r="0.78" fill="#a8a858" fill-opacity="0.41"/>
<circle cx="40.7" cy="393.1" r="0.45" fill="#a8a858" fill-opacity="0.33"/>
<circle cx="25.5" cy="389.9" r="0.63" fill="#a8a858" fill-opacity="0.57"/>
<circle cx="38.4" cy="395.4" r="0.64" fill="#a8a858" fill-opacity="0.53"/>
<circle cx="23.3" cy="399.0" r="0.76" fill="#a8a858" fill-opacity="0.52"/>
<circle cx="36.6" cy="395.4" r="0.43" fill="#a8a858" fill-opacity="0.53"/>
<circle cx="28.3" cy="401.8" r="0.79" fill="#a8a858" fill-opacity="0.39"/>
<circle cx="29.6" cy="404.7" r="0.68" fill="#a8a858" fill-opacity="0.31"/>
<circle cx="24.5" cy="402.3" r="0.79" fill="#a8a858" fill-opacity="0.48"/>
<circle cx="28.6" cy="396.8" r="0.41" fill="#a8a858" fill-opacity="0.25"/>
<circle cx="41.0" cy="398.8" r="0.59" fill="#a8a858" fill-opacity="0.58"/>
<circle cx="30.3" cy="403.2" r="0.72" fill="#a8a858" fill-opacity="0.32"/>
<circle cx="26.6" cy="391.7" r="0.46" fill="#a8a858" fill-opacity="0.46"/>
<circle cx="26.8" cy="394.2" r="0.41" fill="#a8a858" fill-opacity="0.57"/>
<circle cx="47.5" cy="387.3" r="0.61" fill="#a8a858" fill-opacity="0.57"/>
<circle cx="48.7" cy="395.1" r="0.58" fill="#a8a858" fill-opacity="0.44"/>
<circle cx="50.4" cy="379.8" r="0.55" fill="#a8a858" fill-opacity="0.31"/>
<circle cx="44.4" cy="387.5" r="0.68" fill="#a8a858" fill-opacity="0.44"/>
<circle cx="47.0" cy="388.3" r="0.60" fill="#a8a858" fill-opacity="0.52"/>
<circle cx="43.3" cy="389.0" r="0.46" fill="#a8a858" fill-opacity="0.35"/>
<circle cx="54.6" cy="388.1" r="0.60" fill="#a8a858" fill-opacity="0.52"/>
<circle cx="57.0" cy="387.0" r="0.63" fill="#a8a858" fill-opacity="0.43"/>
<circle cx="50.2" cy="391.3" r="0.55" fill="#a8a858" fill-opacity="0.44"/>
<circle cx="49.6" cy="395.5" r="0.66" fill="#a8a858" fill-opacity="0.56"/>
<circle cx="51.0" cy="395.5" r="0.73" fill="#a8a858" fill-opacity="0.30"/>
<circle cx="43.6" cy="387.0" r="0.38" fill="#a8a858" fill-opacity="0.33"/>
<circle cx="42.7" cy="390.9" r="0.70" fill="#a8a858" fill-opacity="0.56"/>
<circle cx="44.1" cy="391.7" r="0.65" fill="#a8a858" fill-opacity="0.30"/>
<circle cx="48.3" cy="387.8" r="0.80" fill="#a8a858" fill-opacity="0.54"/>
<circle cx="44.2" cy="386.8" r="0.58" fill="#a8a858" fill-opacity="0.37"/>
<circle cx="44.8" cy="384.9" r="0.67" fill="#a8a858" fill-opacity="0.26"/>
<circle cx="50.9" cy="387.0" r="0.36" fill="#a8a858" fill-opacity="0.37"/>
<circle cx="52.1" cy="388.2" r="0.38" fill="#a8a858" fill-opacity="0.59"/>
<circle cx="43.3" cy="384.0" r="0.37" fill="#a8a858" fill-opacity="0.52"/>
<circle cx="46.1" cy="381.7" r="0.54" fill="#a8a858" fill-opacity="0.57"/>
<circle cx="55.4" cy="383.9" r="0.42" fill="#a8a858" fill-opacity="0.57"/>
<circle cx="51.2" cy="391.4" r="0.39" fill="#a8a858" fill-opacity="0.27"/>
<circle cx="53.2" cy="386.7" r="0.38" fill="#a8a858" fill-opacity="0.58"/>
<circle cx="52.3" cy="393.1" r="0.39" fill="#a8a858" fill-opacity="0.55"/>
<circle cx="49.2" cy="385.3" r="0.60" fill="#a8a858" fill-opacity="0.57"/>
<circle cx="46.1" cy="381.7" r="0.59" fill="#a8a858" fill-opacity="0.33"/>
<circle cx="46.8" cy="384.7" r="0.69" fill="#a8a858" fill-opacity="0.35"/>
<circle cx="50.0" cy="382.5" r="0.51" fill="#a8a858" fill-opacity="0.26"/>
<circle cx="54.0" cy="388.9" r="0.44" fill="#a8a858" fill-opacity="0.42"/>
<circle cx="55.4" cy="386.8" r="0.57" fill="#a8a858" fill-opacity="0.54"/>
<circle cx="48.2" cy="388.1" r="0.66" fill="#a8a858" fill-opacity="0.59"/>
<circle cx="47.3" cy="393.6" r="0.67" fill="#a8a858" fill-opacity="0.47"/>
<circle cx="48.4" cy="385.4" r="0.37" fill="#a8a858" fill-opacity="0.30"/>
<circle cx="42.7" cy="392.1" r="0.47" fill="#a8a858" fill-opacity="0.31"/>
<circle cx="56.3" cy="390.9" r="0.48" fill="#a8a858" fill-opacity="0.33"/>
<circle cx="46.5" cy="387.3" r="0.42" fill="#a8a858" fill-opacity="0.41"/>
<circle cx="58.0" cy="388.8" r="0.46" fill="#a8a858" fill-opacity="0.59"/>
<circle cx="46.8" cy="385.6" r="0.35" fill="#a8a858" fill-opacity="0.38"/>
<circle cx="49.6" cy="388.0" r="0.44" fill="#a8a858" fill-opacity="0.43"/>
<circle cx="17.9" cy="373.2" r="0.36" fill="#a8a858" fill-opacity="0.21"/>
<circle cx="20.9" cy="370.9" r="0.55" fill="#a8a858" fill-opacity="0.36"/>
<circle cx="27.1" cy="376.8" r="0.60" fill="#a8a858" fill-opacity="0.46"/>
<circle cx="22.1" cy="372.2" r="0.69" fill="#a8a858" fill-opacity="0.24"/>
<circle cx="26.7" cy="376.6" r="0.37" fill="#a8a858" fill-opacity="0.45"/>
<circle cx="29.1" cy="376.4" r="0.61" fill="#a8a858" fill-opacity="0.44"/>
<circle cx="18.6" cy="374.9" r="0.53" fill="#a8a858" fill-opacity="0.45"/>
<circle cx="27.9" cy="379.2" r="0.55" fill="#a8a858" fill-opacity="0.47"/>
<circle cx="26.2" cy="377.3" r="0.43" fill="#a8a858" fill-opacity="0.21"/>
<circle cx="18.5" cy="372.6" r="0.39" fill="#a8a858" fill-opacity="0.45"/>
<circle cx="24.4" cy="376.4" r="0.57" fill="#a8a858" fill-opacity="0.40"/>
<circle cx="23.5" cy="367.6" r="0.63" fill="#a8a858" fill-opacity="0.42"/>
<circle cx="23.6" cy="375.1" r="0.58" fill="#a8a858" fill-opacity="0.22"/>
<circle cx="26.9" cy="371.1" r="0.38" fill="#a8a858" fill-opacity="0.28"/>
<circle cx="26.8" cy="370.5" r="0.61" fill="#a8a858" fill-opacity="0.49"/>
<circle cx="23.5" cy="373.0" r="0.52" fill="#a8a858" fill-opacity="0.41"/>
<circle cx="27.3" cy="376.2" r="0.57" fill="#a8a858" fill-opacity="0.22"/>
<circle cx="18.7" cy="371.2" r="0.61" fill="#a8a858" fill-opacity="0.29"/>
<circle cx="24.5" cy="367.8" r="0.37" fill="#a8a858" fill-opacity="0.28"/>
<circle cx="26.0" cy="377.3" r="0.59" fill="#a8a858" fill-opacity="0.29"/>
<circle cx="23.8" cy="374.1" r="0.51" fill="#a8a858" fill-opacity="0.24"/>
<circle cx="29.1" cy="370.4" r="0.69" fill="#a8a858" fill-opacity="0.48"/>
<circle cx="9.0" cy="390.7" r="0.73" fill="#6a6a40" fill-opacity="0.25"/>
<circle cx="33.2" cy="380.0" r="0.48" fill="#6a6a40" fill-opacity="0.24"/>
<circle cx="19.8" cy="397.6" r="0.46" fill="#6a6a40" fill-opacity="0.18"/>
<circle cx="53.9" cy="393.5" r="0.75" fill="#6a6a40" fill-opacity="0.21"/>
<circle cx="21.0" cy="415.3" r="0.59" fill="#6a6a40" fill-opacity="0.10"/>
<circle cx="8.2" cy="392.5" r="0.58" fill="#6a6a40" fill-opacity="0.15"/>
<circle cx="15.9" cy="384.3" r="0.53" fill="#6a6a40" fill-opacity="0.23"/>
<circle cx="59.9" cy="404.9" r="0.76" fill="#6a6a40" fill-opacity="0.14"/>
<circle cx="28.8" cy="387.0" r="0.80" fill="#6a6a40" fill-opacity="0.19"/>
<circle cx="28.2" cy="389.0" r="0.51" fill="#6a6a40" fill-opacity="0.11"/>
<circle cx="24.0" cy="417.4" r="0.50" fill="#6a6a40" fill-opacity="0.14"/>
<circle cx="36.6" cy="375.6" r="0.55" fill="#6a6a40" fill-opacity="0.24"/>
<circle cx="57.5" cy="410.5" r="0.65" fill="#6a6a40" fill-opacity="0.24"/>
<circle cx="60.7" cy="395.8" r="0.69" fill="#6a6a40" fill-opacity="0.11"/>
<circle cx="49.0" cy="390.2" r="0.70" fill="#6a6a40" fill-opacity="0.20"/>
<circle cx="24.0" cy="367.7" r="0.77" fill="#6a6a40" fill-opacity="0.12"/>
<circle cx="34.4" cy="384.2" r="0.52" fill="#6a6a40" fill-opacity="0.21"/>
<circle cx="44.7" cy="381.8" r="0.62" fill="#6a6a40" fill-opacity="0.16"/>
<circle cx="17.4" cy="374.1" r="0.48" fill="#6a6a40" fill-opacity="0.24"/>
<circle cx="35.8" cy="377.3" r="0.76" fill="#6a6a40" fill-opacity="0.25"/>
<circle cx="33.2" cy="372.8" r="0.48" fill="#6a6a40" fill-opacity="0.11"/>
<circle cx="27.1" cy="370.1" r="0.50" fill="#6a6a40" fill-opacity="0.14"/>
<circle cx="39.9" cy="414.7" r="0.70" fill="#6a6a40" fill-opacity="0.16"/>
<circle cx="31.2" cy="394.4" r="0.55" fill="#6a6a40" fill-opacity="0.15"/>
<circle cx="11.5" cy="380.5" r="0.79" fill="#6a6a40" fill-opacity="0.12"/>
<circle cx="36.2" cy="400.3" r="0.75" fill="#6a6a40" fill-opacity="0.13"/>
<circle cx="23.2" cy="378.9" r="0.56" fill="#6a6a40" fill-opacity="0.17"/>
<circle cx="58.2" cy="391.5" r="0.63" fill="#6a6a40" fill-opacity="0.10"/>
<circle cx="29.9" cy="416.9" r="0.73" fill="#6a6a40" fill-opacity="0.23"/>
<circle cx="37.3" cy="403.2" r="0.78" fill="#6a6a40" fill-opacity="0.21"/>
<circle cx="44.3" cy="407.8" r="0.58" fill="#6a6a40" fill-opacity="0.18"/>
<circle cx="21.0" cy="416.5" r="0.66" fill="#6a6a40" fill-opacity="0.15"/>
<circle cx="15.2" cy="379.1" r="0.65" fill="#6a6a40" fill-opacity="0.20"/>
<circle cx="37.4" cy="397.6" r="0.56" fill="#6a6a40" fill-opacity="0.13"/>
<circle cx="41.7" cy="365.6" r="0.52" fill="#6a6a40" fill-opacity="0.17"/>
<circle cx="61.7" cy="401.1" r="0.75" fill="#6a6a40" fill-opacity="0.17"/>
<circle cx="21.1" cy="378.8" r="0.78" fill="#6a6a40" fill-opacity="0.21"/>
<circle cx="35.9" cy="402.8" r="0.57" fill="#6a6a40" fill-opacity="0.14"/>
<circle cx="45.4" cy="416.8" r="0.49" fill="#6a6a40" fill-opacity="0.11"/>
<circle cx="26.9" cy="388.6" r="0.67" fill="#6a6a40" fill-opacity="0.13"/>
</g></g>
<g fill="none" stroke="#ece8d4" stroke-width="1.2">
<ellipse cx="23.6" cy="374.6" rx="7.2" ry="7.2"/>
<ellipse cx="31.6" cy="395.8" rx="10.3" ry="11.3"/>
<ellipse cx="50" cy="388" rx="8.9" ry="8.9"/>
</g>
<g clip-path="url(#m2)">
<rect x="78.9" y="365" width="60" height="56" fill="#2f2b1c"/>
<circle cx="107" cy="393" r="14" fill="url(#c2)"/>
<g filter="url(#bl)">
<circle cx="114.7" cy="399.2" r="0.50" fill="#8a8a48" fill-opacity="0.20"/>
<circle cx="115.3" cy="386.0" r="0.39" fill="#8a8a48" fill-opacity="0.34"/>
<circle cx="101.7" cy="404.8" r="0.50" fill="#8a8a48" fill-opacity="0.20"/>
<circle cx="99.8" cy="390.8" r="0.57" fill="#8a8a48" fill-opacity="0.39"/>
<circle cx="97.8" cy="390.2" r="0.39" fill="#8a8a48" fill-opacity="0.39"/>
<circle cx="95.6" cy="390.2" r="0.66" fill="#8a8a48" fill-opacity="0.37"/>
<circle cx="118.2" cy="388.6" r="0.37" fill="#8a8a48" fill-opacity="0.38"/>
<circle cx="111.3" cy="389.8" r="0.45" fill="#8a8a48" fill-opacity="0.23"/>
<circle cx="101.3" cy="389.1" r="0.68" fill="#8a8a48" fill-opacity="0.18"/>
<circle cx="103.3" cy="401.4" r="0.63" fill="#8a8a48" fill-opacity="0.26"/>
<circle cx="95.3" cy="392.3" r="0.45" fill="#8a8a48" fill-opacity="0.38"/>
<circle cx="99.0" cy="389.5" r="0.66" fill="#8a8a48" fill-opacity="0.16"/>
<circle cx="104.7" cy="401.1" r="0.61" fill="#8a8a48" fill-opacity="0.16"/>
<circle cx="117.9" cy="386.7" r="0.60" fill="#8a8a48" fill-opacity="0.37"/>
<circle cx="102.8" cy="387.1" r="0.68" fill="#8a8a48" fill-opacity="0.30"/>
<circle cx="100.8" cy="398.6" r="0.43" fill="#8a8a48" fill-opacity="0.22"/>
<circle cx="117.8" cy="396.5" r="0.68" fill="#8a8a48" fill-opacity="0.16"/>
<circle cx="100.1" cy="392.4" r="0.68" fill="#8a8a48" fill-opacity="0.39"/>
<circle cx="104.0" cy="386.5" r="0.47" fill="#8a8a48" fill-opacity="0.27"/>
<circle cx="114.9" cy="399.2" r="0.63" fill="#8a8a48" fill-opacity="0.34"/>
<circle cx="109.8" cy="388.5" r="0.43" fill="#8a8a48" fill-opacity="0.24"/>
<circle cx="99.1" cy="399.6" r="0.40" fill="#8a8a48" fill-opacity="0.17"/>
<circle cx="94.9" cy="394.4" r="0.43" fill="#8a8a48" fill-opacity="0.40"/>
<circle cx="100.9" cy="382.2" r="0.34" fill="#8a8a48" fill-opacity="0.27"/>
<circle cx="112.5" cy="391.6" r="0.39" fill="#8a8a48" fill-opacity="0.25"/>
<circle cx="110.1" cy="397.5" r="0.60" fill="#8a8a48" fill-opacity="0.36"/>
<circle cx="111.3" cy="383.2" r="0.64" fill="#8a8a48" fill-opacity="0.22"/>
<circle cx="108.7" cy="389.7" r="0.60" fill="#8a8a48" fill-opacity="0.20"/>
<circle cx="100.4" cy="386.4" r="0.36" fill="#8a8a48" fill-opacity="0.37"/>
<circle cx="109.0" cy="388.5" r="0.46" fill="#8a8a48" fill-opacity="0.40"/>
<circle cx="107.2" cy="386.0" r="0.62" fill="#8a8a48" fill-opacity="0.31"/>
<circle cx="106.3" cy="401.3" r="0.64" fill="#8a8a48" fill-opacity="0.38"/>
<circle cx="97.1" cy="384.9" r="0.69" fill="#8a8a48" fill-opacity="0.30"/>
<circle cx="118.2" cy="389.7" r="0.65" fill="#8a8a48" fill-opacity="0.26"/>
<circle cx="100.8" cy="400.2" r="0.68" fill="#8a8a48" fill-opacity="0.18"/>
<circle cx="109.5" cy="396.1" r="0.39" fill="#8a8a48" fill-opacity="0.24"/>
<circle cx="97.7" cy="385.3" r="0.40" fill="#8a8a48" fill-opacity="0.30"/>
<circle cx="110.9" cy="385.3" r="0.30" fill="#8a8a48" fill-opacity="0.23"/>
<circle cx="111.6" cy="384.8" r="0.42" fill="#8a8a48" fill-opacity="0.20"/>
<circle cx="114.7" cy="394.2" r="0.33" fill="#8a8a48" fill-opacity="0.18"/>
<circle cx="104.3" cy="394.3" r="0.56" fill="#8a8a48" fill-opacity="0.17"/>
<circle cx="98.3" cy="398.1" r="0.46" fill="#8a8a48" fill-opacity="0.22"/>
<circle cx="102.0" cy="404.8" r="0.42" fill="#8a8a48" fill-opacity="0.29"/>
<circle cx="103.3" cy="390.8" r="0.65" fill="#8a8a48" fill-opacity="0.40"/>
<circle cx="103.5" cy="385.1" r="0.59" fill="#8a8a48" fill-opacity="0.20"/>
<circle cx="105.0" cy="401.3" r="0.46" fill="#8a8a48" fill-opacity="0.37"/>
<circle cx="106.0" cy="384.2" r="0.31" fill="#8a8a48" fill-opacity="0.29"/>
<circle cx="110.7" cy="403.7" r="0.34" fill="#8a8a48" fill-opacity="0.31"/>
<circle cx="103.6" cy="393.1" r="0.36" fill="#8a8a48" fill-opacity="0.22"/>
<circle cx="107.6" cy="404.1" r="0.34" fill="#8a8a48" fill-opacity="0.27"/>
<circle cx="99.1" cy="383.3" r="0.68" fill="#8a8a48" fill-opacity="0.39"/>
<circle cx="106.6" cy="381.4" r="0.67" fill="#8a8a48" fill-opacity="0.25"/>
<circle cx="117.5" cy="396.1" r="0.63" fill="#8a8a48" fill-opacity="0.19"/>
<circle cx="114.4" cy="385.8" r="0.46" fill="#8a8a48" fill-opacity="0.36"/>
<circle cx="115.6" cy="384.8" r="0.39" fill="#8a8a48" fill-opacity="0.25"/>
</g></g>
<g clip-path="url(#m3)">
<rect x="151.6" y="365" width="59.3" height="56" fill="#282417"/>
<circle cx="180.5" cy="392" r="30" fill="url(#c3)"/>
<g filter="url(#bl)">
<circle cx="181.5" cy="385.7" r="0.36" fill="#9c9c50" fill-opacity="0.25"/>
<circle cx="192.6" cy="413.5" r="0.32" fill="#9c9c50" fill-opacity="0.37"/>
<circle cx="185.9" cy="394.7" r="0.58" fill="#9c9c50" fill-opacity="0.27"/>
<circle cx="176.2" cy="396.5" r="0.49" fill="#9c9c50" fill-opacity="0.41"/>
<circle cx="177.6" cy="388.7" r="0.31" fill="#9c9c50" fill-opacity="0.40"/>
<circle cx="179.9" cy="377.7" r="0.64" fill="#9c9c50" fill-opacity="0.46"/>
<circle cx="178.2" cy="374.7" r="0.51" fill="#9c9c50" fill-opacity="0.19"/>
<circle cx="160.4" cy="388.3" r="0.34" fill="#9c9c50" fill-opacity="0.33"/>
<circle cx="181.0" cy="367.2" r="0.59" fill="#9c9c50" fill-opacity="0.18"/>
<circle cx="193.1" cy="407.0" r="0.53" fill="#9c9c50" fill-opacity="0.17"/>
<circle cx="180.7" cy="385.4" r="0.73" fill="#9c9c50" fill-opacity="0.20"/>
<circle cx="193.0" cy="409.0" r="0.39" fill="#9c9c50" fill-opacity="0.54"/>
<circle cx="180.1" cy="416.7" r="0.71" fill="#9c9c50" fill-opacity="0.22"/>
<circle cx="157.0" cy="383.9" r="0.64" fill="#9c9c50" fill-opacity="0.21"/>
<circle cx="201.9" cy="379.8" r="0.67" fill="#9c9c50" fill-opacity="0.21"/>
<circle cx="180.6" cy="414.7" r="0.39" fill="#9c9c50" fill-opacity="0.26"/>
<circle cx="180.8" cy="382.2" r="0.32" fill="#9c9c50" fill-opacity="0.22"/>
<circle cx="190.2" cy="413.4" r="0.38" fill="#9c9c50" fill-opacity="0.46"/>
<circle cx="159.7" cy="393.7" r="0.59" fill="#9c9c50" fill-opacity="0.29"/>
<circle cx="200.6" cy="395.0" r="0.56" fill="#9c9c50" fill-opacity="0.50"/>
<circle cx="187.5" cy="386.3" r="0.66" fill="#9c9c50" fill-opacity="0.26"/>
<circle cx="207.0" cy="396.2" r="0.46" fill="#9c9c50" fill-opacity="0.46"/>
<circle cx="177.4" cy="374.5" r="0.63" fill="#9c9c50" fill-opacity="0.17"/>
<circle cx="197.8" cy="378.7" r="0.59" fill="#9c9c50" fill-opacity="0.54"/>
<circle cx="185.1" cy="400.8" r="0.44" fill="#9c9c50" fill-opacity="0.15"/>
<circle cx="186.8" cy="388.3" r="0.53" fill="#9c9c50" fill-opacity="0.51"/>
<circle cx="160.6" cy="377.3" r="0.59" fill="#9c9c50" fill-opacity="0.16"/>
<circle cx="159.2" cy="384.3" r="0.40" fill="#9c9c50" fill-opacity="0.38"/>
<circle cx="185.3" cy="376.0" r="0.58" fill="#9c9c50" fill-opacity="0.34"/>
<circle cx="166.7" cy="373.1" r="0.34" fill="#9c9c50" fill-opacity="0.41"/>
<circle cx="200.5" cy="407.2" r="0.48" fill="#9c9c50" fill-opacity="0.26"/>
<circle cx="183.9" cy="383.9" r="0.59" fill="#9c9c50" fill-opacity="0.33"/>
<circle cx="204.1" cy="404.6" r="0.41" fill="#9c9c50" fill-opacity="0.51"/>
<circle cx="155.9" cy="393.7" r="0.48" fill="#9c9c50" fill-opacity="0.25"/>
<circle cx="154.2" cy="394.7" r="0.72" fill="#9c9c50" fill-opacity="0.21"/>
<circle cx="164.3" cy="397.8" r="0.53" fill="#9c9c50" fill-opacity="0.41"/>
<circle cx="197.4" cy="374.4" r="0.44" fill="#9c9c50" fill-opacity="0.27"/>
<circle cx="195.8" cy="403.6" r="0.30" fill="#9c9c50" fill-opacity="0.49"/>
<circle cx="193.7" cy="390.1" r="0.63" fill="#9c9c50" fill-opacity="0.33"/>
<circle cx="165.7" cy="370.7" r="0.40" fill="#9c9c50" fill-opacity="0.17"/>
<circle cx="171.6" cy="405.5" r="0.61" fill="#9c9c50" fill-opacity="0.49"/>
<circle cx="191.9" cy="379.4" r="0.55" fill="#9c9c50" fill-opacity="0.32"/>
<circle cx="196.1" cy="393.3" r="0.42" fill="#9c9c50" fill-opacity="0.41"/>
<circle cx="167.6" cy="377.7" r="0.63" fill="#9c9c50" fill-opacity="0.53"/>
<circle cx="193.8" cy="382.7" r="0.70" fill="#9c9c50" fill-opacity="0.28"/>
<circle cx="166.4" cy="414.0" r="0.58" fill="#9c9c50" fill-opacity="0.43"/>
<circle cx="178.9" cy="410.3" r="0.61" fill="#9c9c50" fill-opacity="0.49"/>
<circle cx="177.1" cy="404.1" r="0.56" fill="#9c9c50" fill-opacity="0.27"/>
<circle cx="164.9" cy="398.6" r="0.34" fill="#9c9c50" fill-opacity="0.51"/>
<circle cx="172.1" cy="372.7" r="0.31" fill="#9c9c50" fill-opacity="0.17"/>
<circle cx="190.9" cy="399.2" r="0.61" fill="#9c9c50" fill-opacity="0.44"/>
<circle cx="157.1" cy="396.9" r="0.46" fill="#9c9c50" fill-opacity="0.48"/>
<circle cx="159.3" cy="376.1" r="0.35" fill="#9c9c50" fill-opacity="0.16"/>
<circle cx="199.3" cy="408.8" r="0.59" fill="#9c9c50" fill-opacity="0.48"/>
<circle cx="187.6" cy="380.5" r="0.34" fill="#9c9c50" fill-opacity="0.19"/>
<circle cx="194.4" cy="376.1" r="0.44" fill="#9c9c50" fill-opacity="0.32"/>
<circle cx="168.8" cy="403.7" r="0.47" fill="#9c9c50" fill-opacity="0.28"/>
<circle cx="205.6" cy="392.2" r="0.68" fill="#9c9c50" fill-opacity="0.40"/>
<circle cx="155.2" cy="387.3" r="0.50" fill="#9c9c50" fill-opacity="0.46"/>
<circle cx="172.2" cy="403.1" r="0.54" fill="#9c9c50" fill-opacity="0.24"/>
<circle cx="197.8" cy="374.2" r="0.30" fill="#9c9c50" fill-opacity="0.23"/>
<circle cx="153.7" cy="391.5" r="0.52" fill="#9c9c50" fill-opacity="0.47"/>
<circle cx="163.5" cy="391.7" r="0.46" fill="#9c9c50" fill-opacity="0.48"/>
<circle cx="168.8" cy="376.6" r="0.61" fill="#9c9c50" fill-opacity="0.35"/>
<circle cx="159.4" cy="399.4" r="0.34" fill="#9c9c50" fill-opacity="0.47"/>
<circle cx="191.1" cy="407.5" r="0.58" fill="#9c9c50" fill-opacity="0.29"/>
<circle cx="175.2" cy="386.3" r="0.70" fill="#9c9c50" fill-opacity="0.18"/>
<circle cx="164.6" cy="379.2" r="0.71" fill="#9c9c50" fill-opacity="0.35"/>
<circle cx="174.0" cy="412.7" r="0.41" fill="#9c9c50" fill-opacity="0.33"/>
<circle cx="182.2" cy="405.7" r="0.64" fill="#9c9c50" fill-opacity="0.41"/>
<circle cx="172.3" cy="382.6" r="0.37" fill="#9c9c50" fill-opacity="0.49"/>
<circle cx="189.3" cy="405.1" r="0.38" fill="#9c9c50" fill-opacity="0.33"/>
<circle cx="195.3" cy="396.3" r="0.36" fill="#9c9c50" fill-opacity="0.33"/>
<circle cx="201.3" cy="377.8" r="0.39" fill="#9c9c50" fill-opacity="0.27"/>
<circle cx="191.5" cy="410.6" r="0.37" fill="#9c9c50" fill-opacity="0.21"/>
<circle cx="166.9" cy="382.6" r="0.53" fill="#9c9c50" fill-opacity="0.21"/>
<circle cx="171.2" cy="375.2" r="0.74" fill="#9c9c50" fill-opacity="0.44"/>
<circle cx="159.0" cy="385.7" r="0.74" fill="#9c9c50" fill-opacity="0.47"/>
<circle cx="193.1" cy="388.5" r="0.39" fill="#9c9c50" fill-opacity="0.41"/>
<circle cx="159.3" cy="376.1" r="0.47" fill="#9c9c50" fill-opacity="0.16"/>
<circle cx="175.0" cy="407.7" r="0.61" fill="#9c9c50" fill-opacity="0.35"/>
<circle cx="187.6" cy="390.0" r="0.36" fill="#9c9c50" fill-opacity="0.39"/>
<circle cx="175.4" cy="405.0" r="0.71" fill="#9c9c50" fill-opacity="0.32"/>
<circle cx="184.5" cy="405.5" r="0.49" fill="#9c9c50" fill-opacity="0.24"/>
<circle cx="192.5" cy="412.5" r="0.65" fill="#9c9c50" fill-opacity="0.43"/>
<circle cx="199.5" cy="401.7" r="0.59" fill="#9c9c50" fill-opacity="0.33"/>
<circle cx="170.4" cy="398.9" r="0.34" fill="#9c9c50" fill-opacity="0.32"/>
<circle cx="195.7" cy="403.5" r="0.58" fill="#9c9c50" fill-opacity="0.25"/>
<circle cx="176.4" cy="389.6" r="0.58" fill="#9c9c50" fill-opacity="0.31"/>
<circle cx="190.0" cy="415.2" r="0.38" fill="#9c9c50" fill-opacity="0.41"/>
<circle cx="195.5" cy="386.0" r="0.52" fill="#9c9c50" fill-opacity="0.54"/>
<circle cx="155.6" cy="394.3" r="0.37" fill="#9c9c50" fill-opacity="0.46"/>
<circle cx="204.3" cy="393.0" r="0.35" fill="#9c9c50" fill-opacity="0.38"/>
<circle cx="182.7" cy="403.7" r="0.53" fill="#9c9c50" fill-opacity="0.41"/>
<circle cx="198.3" cy="393.2" r="0.48" fill="#9c9c50" fill-opacity="0.53"/>
<circle cx="164.8" cy="402.0" r="0.48" fill="#9c9c50" fill-opacity="0.46"/>
<circle cx="172.7" cy="368.1" r="0.42" fill="#9c9c50" fill-opacity="0.31"/>
<circle cx="154.2" cy="387.6" r="0.49" fill="#9c9c50" fill-opacity="0.43"/>
<circle cx="172.5" cy="379.3" r="0.40" fill="#9c9c50" fill-opacity="0.45"/>
<circle cx="204.3" cy="393.5" r="0.40" fill="#9c9c50" fill-opacity="0.47"/>
<circle cx="174.7" cy="376.4" r="0.36" fill="#9c9c50" fill-opacity="0.46"/>
<circle cx="197.2" cy="399.3" r="0.51" fill="#9c9c50" fill-opacity="0.37"/>
<circle cx="172.6" cy="399.5" r="0.67" fill="#9c9c50" fill-opacity="0.48"/>
<circle cx="178.8" cy="380.9" r="0.55" fill="#9c9c50" fill-opacity="0.20"/>
<circle cx="198.5" cy="384.2" r="0.68" fill="#9c9c50" fill-opacity="0.26"/>
<circle cx="173.8" cy="378.7" r="0.49" fill="#9c9c50" fill-opacity="0.22"/>
<circle cx="168.7" cy="378.2" r="0.44" fill="#9c9c50" fill-opacity="0.34"/>
<circle cx="176.6" cy="399.4" r="0.60" fill="#9c9c50" fill-opacity="0.29"/>
<circle cx="202.4" cy="407.3" r="0.36" fill="#9c9c50" fill-opacity="0.48"/>
<circle cx="188.9" cy="378.5" r="0.35" fill="#9c9c50" fill-opacity="0.21"/>
<circle cx="166.1" cy="406.9" r="0.46" fill="#9c9c50" fill-opacity="0.21"/>
<circle cx="202.3" cy="407.8" r="0.38" fill="#9c9c50" fill-opacity="0.51"/>
<circle cx="186.4" cy="407.2" r="0.60" fill="#9c9c50" fill-opacity="0.51"/>
<circle cx="196.1" cy="410.3" r="0.39" fill="#9c9c50" fill-opacity="0.43"/>
<circle cx="182.2" cy="405.1" r="0.50" fill="#9c9c50" fill-opacity="0.50"/>
<circle cx="183.5" cy="379.3" r="0.41" fill="#9c9c50" fill-opacity="0.21"/>
<circle cx="180.1" cy="368.2" r="0.51" fill="#9c9c50" fill-opacity="0.21"/>
<circle cx="180.0" cy="391.9" r="0.54" fill="#9c9c50" fill-opacity="0.50"/>
<circle cx="178.8" cy="395.4" r="0.60" fill="#9c9c50" fill-opacity="0.49"/>
<circle cx="173.7" cy="387.6" r="0.73" fill="#9c9c50" fill-opacity="0.18"/>
<circle cx="187.9" cy="399.4" r="0.31" fill="#9c9c50" fill-opacity="0.39"/>
<circle cx="190.4" cy="415.3" r="0.45" fill="#9c9c50" fill-opacity="0.54"/>
<circle cx="181.1" cy="391.2" r="0.70" fill="#9c9c50" fill-opacity="0.16"/>
<circle cx="192.3" cy="398.8" r="0.45" fill="#9c9c50" fill-opacity="0.49"/>
<circle cx="173.3" cy="390.6" r="0.54" fill="#9c9c50" fill-opacity="0.46"/>
<circle cx="164.9" cy="388.5" r="0.49" fill="#9c9c50" fill-opacity="0.37"/>
<circle cx="198.1" cy="380.8" r="0.67" fill="#9c9c50" fill-opacity="0.31"/>
<circle cx="180.7" cy="379.7" r="0.53" fill="#9c9c50" fill-opacity="0.54"/>
<circle cx="188.8" cy="407.8" r="0.45" fill="#9c9c50" fill-opacity="0.28"/>
<circle cx="169.7" cy="396.7" r="0.59" fill="#9c9c50" fill-opacity="0.46"/>
<circle cx="201.3" cy="394.5" r="0.32" fill="#9c9c50" fill-opacity="0.27"/>
<circle cx="203.3" cy="397.9" r="0.60" fill="#9c9c50" fill-opacity="0.47"/>
<circle cx="202.6" cy="398.0" r="0.58" fill="#9c9c50" fill-opacity="0.40"/>
<circle cx="191.1" cy="397.2" r="0.61" fill="#9c9c50" fill-opacity="0.24"/>
<circle cx="189.5" cy="389.7" r="0.64" fill="#9c9c50" fill-opacity="0.19"/>
<circle cx="195.3" cy="414.4" r="0.60" fill="#9c9c50" fill-opacity="0.30"/>
<circle cx="197.9" cy="407.5" r="0.55" fill="#9c9c50" fill-opacity="0.25"/>
<circle cx="169.8" cy="387.8" r="0.44" fill="#9c9c50" fill-opacity="0.32"/>
<circle cx="188.2" cy="415.4" r="0.32" fill="#9c9c50" fill-opacity="0.38"/>
<circle cx="197.3" cy="396.1" r="0.71" fill="#9c9c50" fill-opacity="0.33"/>
<circle cx="154.3" cy="385.9" r="0.57" fill="#9c9c50" fill-opacity="0.53"/>
<circle cx="206.5" cy="390.7" r="0.49" fill="#9c9c50" fill-opacity="0.19"/>
<circle cx="188.3" cy="376.5" r="0.37" fill="#9c9c50" fill-opacity="0.16"/>
<circle cx="192.3" cy="378.1" r="0.63" fill="#9c9c50" fill-opacity="0.22"/>
<circle cx="192.0" cy="411.2" r="0.63" fill="#9c9c50" fill-opacity="0.18"/>
<circle cx="187.4" cy="403.3" r="0.51" fill="#9c9c50" fill-opacity="0.52"/>
<circle cx="170.3" cy="404.4" r="0.37" fill="#9c9c50" fill-opacity="0.49"/>
<circle cx="179.8" cy="368.2" r="0.47" fill="#9c9c50" fill-opacity="0.38"/>
<circle cx="177.2" cy="401.6" r="0.37" fill="#9c9c50" fill-opacity="0.47"/>
<circle cx="173.1" cy="399.8" r="0.58" fill="#9c9c50" fill-opacity="0.32"/>
<circle cx="174.3" cy="407.5" r="0.73" fill="#9c9c50" fill-opacity="0.46"/>
<circle cx="184.1" cy="380.8" r="0.33" fill="#9c9c50" fill-opacity="0.54"/>
<circle cx="191.5" cy="409.7" r="0.45" fill="#9c9c50" fill-opacity="0.39"/>
<circle cx="186.0" cy="381.7" r="0.49" fill="#9c9c50" fill-opacity="0.51"/>
<circle cx="173.8" cy="402.0" r="0.57" fill="#9c9c50" fill-opacity="0.51"/>
<circle cx="197.1" cy="380.3" r="0.30" fill="#9c9c50" fill-opacity="0.26"/>
<circle cx="176.3" cy="396.7" r="0.67" fill="#9c9c50" fill-opacity="0.50"/>
<circle cx="197.3" cy="411.8" r="0.56" fill="#9c9c50" fill-opacity="0.26"/>
<circle cx="199.5" cy="408.6" r="0.61" fill="#9c9c50" fill-opacity="0.52"/>
<circle cx="172.2" cy="369.6" r="0.55" fill="#9c9c50" fill-opacity="0.47"/>
<circle cx="164.3" cy="405.5" r="0.72" fill="#9c9c50" fill-opacity="0.24"/>
<circle cx="186.3" cy="401.6" r="0.51" fill="#9c9c50" fill-opacity="0.23"/>
<circle cx="167.3" cy="405.6" r="0.66" fill="#9c9c50" fill-opacity="0.33"/>
<circle cx="195.2" cy="377.6" r="0.56" fill="#9c9c50" fill-opacity="0.51"/>
<circle cx="201.3" cy="393.2" r="0.51" fill="#9c9c50" fill-opacity="0.39"/>
<circle cx="163.7" cy="375.4" r="0.38" fill="#9c9c50" fill-opacity="0.43"/>
<circle cx="173.1" cy="395.5" r="0.48" fill="#9c9c50" fill-opacity="0.36"/>
<circle cx="159.2" cy="399.2" r="0.65" fill="#9c9c50" fill-opacity="0.21"/>
<circle cx="185.7" cy="383.6" r="0.53" fill="#9c9c50" fill-opacity="0.16"/>
<circle cx="200.3" cy="391.3" r="0.56" fill="#9c9c50" fill-opacity="0.25"/>
<circle cx="195.6" cy="388.0" r="0.73" fill="#9c9c50" fill-opacity="0.46"/>
<circle cx="164.4" cy="374.8" r="0.34" fill="#9c9c50" fill-opacity="0.17"/>
<circle cx="183.6" cy="412.0" r="0.51" fill="#9c9c50" fill-opacity="0.53"/>
<circle cx="185.8" cy="386.5" r="0.35" fill="#9c9c50" fill-opacity="0.53"/>
<circle cx="167.4" cy="395.5" r="0.59" fill="#9c9c50" fill-opacity="0.53"/>
<circle cx="189.7" cy="386.2" r="0.50" fill="#9c9c50" fill-opacity="0.21"/>
<circle cx="167.3" cy="384.0" r="0.71" fill="#9c9c50" fill-opacity="0.51"/>
<circle cx="196.0" cy="403.3" r="0.59" fill="#9c9c50" fill-opacity="0.54"/>
<circle cx="190.1" cy="381.1" r="0.57" fill="#9c9c50" fill-opacity="0.45"/>
<circle cx="159.2" cy="382.5" r="0.42" fill="#9c9c50" fill-opacity="0.20"/>
<circle cx="179.5" cy="374.1" r="0.41" fill="#9c9c50" fill-opacity="0.21"/>
<circle cx="192.2" cy="375.5" r="0.32" fill="#9c9c50" fill-opacity="0.52"/>
<circle cx="161.0" cy="389.2" r="0.34" fill="#9c9c50" fill-opacity="0.52"/>
<circle cx="199.0" cy="398.9" r="0.50" fill="#9c9c50" fill-opacity="0.29"/>
<circle cx="197.9" cy="390.8" r="0.58" fill="#9c9c50" fill-opacity="0.21"/>
<circle cx="192.0" cy="394.9" r="0.37" fill="#9c9c50" fill-opacity="0.50"/>
<circle cx="167.9" cy="387.2" r="0.37" fill="#9c9c50" fill-opacity="0.26"/>
<circle cx="198.8" cy="383.1" r="0.38" fill="#9c9c50" fill-opacity="0.35"/>
<circle cx="170.7" cy="413.8" r="0.35" fill="#9c9c50" fill-opacity="0.54"/>
<circle cx="189.6" cy="376.4" r="0.51" fill="#9c9c50" fill-opacity="0.26"/>
<circle cx="167.4" cy="375.9" r="0.46" fill="#9c9c50" fill-opacity="0.55"/>
<circle cx="158.8" cy="380.6" r="0.70" fill="#9c9c50" fill-opacity="0.17"/>
<circle cx="192.7" cy="380.9" r="0.74" fill="#9c9c50" fill-opacity="0.16"/>
<circle cx="197.1" cy="383.4" r="0.36" fill="#9c9c50" fill-opacity="0.15"/>
<circle cx="198.4" cy="393.4" r="0.38" fill="#9c9c50" fill-opacity="0.32"/>
<circle cx="202.7" cy="376.8" r="0.56" fill="#9c9c50" fill-opacity="0.21"/>
<circle cx="163.2" cy="406.6" r="0.62" fill="#9c9c50" fill-opacity="0.23"/>
<circle cx="186.4" cy="391.8" r="0.42" fill="#9c9c50" fill-opacity="0.23"/>
<circle cx="186.6" cy="403.2" r="0.67" fill="#9c9c50" fill-opacity="0.38"/>
<circle cx="193.1" cy="387.0" r="0.62" fill="#9c9c50" fill-opacity="0.17"/>
<circle cx="197.3" cy="383.1" r="0.68" fill="#9c9c50" fill-opacity="0.50"/>
<circle cx="180.1" cy="365.8" r="0.71" fill="#9c9c50" fill-opacity="0.34"/>
<circle cx="200.6" cy="379.4" r="0.38" fill="#9c9c50" fill-opacity="0.48"/>
<circle cx="173.3" cy="373.8" r="0.47" fill="#9c9c50" fill-opacity="0.39"/>
<circle cx="153.8" cy="393.1" r="0.50" fill="#9c9c50" fill-opacity="0.36"/>
<circle cx="160.0" cy="403.6" r="0.67" fill="#9c9c50" fill-opacity="0.50"/>
<circle cx="170.8" cy="403.4" r="0.47" fill="#9c9c50" fill-opacity="0.45"/>
<circle cx="205.0" cy="391.7" r="0.53" fill="#9c9c50" fill-opacity="0.36"/>
<circle cx="182.5" cy="366.1" r="0.74" fill="#9c9c50" fill-opacity="0.24"/>
<circle cx="167.0" cy="409.1" r="0.31" fill="#9c9c50" fill-opacity="0.19"/>
<circle cx="191.2" cy="375.5" r="0.31" fill="#9c9c50" fill-opacity="0.39"/>
<circle cx="184.6" cy="393.2" r="0.62" fill="#9c9c50" fill-opacity="0.19"/>
<circle cx="200.5" cy="403.7" r="0.32" fill="#9c9c50" fill-opacity="0.20"/>
<circle cx="180.2" cy="392.0" r="0.43" fill="#9c9c50" fill-opacity="0.20"/>
<circle cx="175.4" cy="372.4" r="0.57" fill="#9c9c50" fill-opacity="0.49"/>
<circle cx="161.4" cy="395.9" r="0.64" fill="#9c9c50" fill-opacity="0.22"/>
<circle cx="174.5" cy="387.7" r="0.68" fill="#9c9c50" fill-opacity="0.36"/>
<circle cx="174.9" cy="415.8" r="0.65" fill="#9c9c50" fill-opacity="0.29"/>
<circle cx="166.5" cy="383.1" r="0.50" fill="#9c9c50" fill-opacity="0.54"/>
<circle cx="197.5" cy="410.8" r="0.32" fill="#9c9c50" fill-opacity="0.36"/>
<circle cx="167.0" cy="387.8" r="0.58" fill="#9c9c50" fill-opacity="0.30"/>
<circle cx="182.2" cy="368.7" r="0.49" fill="#9c9c50" fill-opacity="0.35"/>
<circle cx="204.1" cy="399.2" r="0.66" fill="#9c9c50" fill-opacity="0.50"/>
<circle cx="188.1" cy="379.4" r="0.61" fill="#9c9c50" fill-opacity="0.26"/>
<circle cx="182.8" cy="414.9" r="0.58" fill="#9c9c50" fill-opacity="0.25"/>
<circle cx="181.6" cy="388.4" r="0.73" fill="#9c9c50" fill-opacity="0.27"/>
<circle cx="170.0" cy="400.0" r="0.35" fill="#9c9c50" fill-opacity="0.39"/>
<circle cx="205.1" cy="392.7" r="0.42" fill="#9c9c50" fill-opacity="0.34"/>
<circle cx="182.3" cy="373.0" r="0.36" fill="#9c9c50" fill-opacity="0.20"/>
<circle cx="169.4" cy="387.0" r="0.43" fill="#9c9c50" fill-opacity="0.25"/>
<circle cx="158.2" cy="394.5" r="0.68" fill="#9c9c50" fill-opacity="0.39"/>
<circle cx="184.3" cy="400.1" r="0.39" fill="#9c9c50" fill-opacity="0.43"/>
<circle cx="178.4" cy="394.6" r="0.58" fill="#9c9c50" fill-opacity="0.34"/>
<circle cx="170.3" cy="378.1" r="0.40" fill="#9c9c50" fill-opacity="0.35"/>
<circle cx="174.2" cy="396.6" r="0.31" fill="#9c9c50" fill-opacity="0.29"/>
<circle cx="200.0" cy="377.9" r="0.55" fill="#9c9c50" fill-opacity="0.35"/>
<circle cx="169.5" cy="406.7" r="0.37" fill="#9c9c50" fill-opacity="0.18"/>
<circle cx="200.5" cy="388.8" r="0.33" fill="#9c9c50" fill-opacity="0.31"/>
<circle cx="177.3" cy="404.7" r="0.35" fill="#9c9c50" fill-opacity="0.24"/>
<circle cx="161.8" cy="383.2" r="0.46" fill="#9c9c50" fill-opacity="0.42"/>
<circle cx="186.8" cy="410.9" r="0.67" fill="#9c9c50" fill-opacity="0.36"/>
<circle cx="193.4" cy="405.1" r="0.64" fill="#9c9c50" fill-opacity="0.34"/>
<circle cx="195.9" cy="403.3" r="0.71" fill="#9c9c50" fill-opacity="0.20"/>
<circle cx="194.8" cy="396.6" r="0.52" fill="#9c9c50" fill-opacity="0.54"/>
<circle cx="184.4" cy="387.6" r="0.65" fill="#9c9c50" fill-opacity="0.50"/>
<circle cx="186.3" cy="385.5" r="0.50" fill="#9c9c50" fill-opacity="0.33"/>
<circle cx="192.5" cy="380.8" r="0.48" fill="#9c9c50" fill-opacity="0.37"/>
<circle cx="174.3" cy="382.4" r="0.65" fill="#9c9c50" fill-opacity="0.49"/>
<circle cx="180.5" cy="389.0" r="0.38" fill="#9c9c50" fill-opacity="0.27"/>
<circle cx="161.3" cy="396.1" r="0.56" fill="#9c9c50" fill-opacity="0.19"/>
<circle cx="203.2" cy="382.5" r="0.68" fill="#9c9c50" fill-opacity="0.49"/>
<circle cx="176.5" cy="414.2" r="0.30" fill="#9c9c50" fill-opacity="0.17"/>
<circle cx="184.0" cy="391.9" r="0.71" fill="#9c9c50" fill-opacity="0.46"/>
<circle cx="182.6" cy="418.9" r="0.53" fill="#9c9c50" fill-opacity="0.36"/>
<circle cx="190.5" cy="386.0" r="0.46" fill="#9c9c50" fill-opacity="0.39"/>
<circle cx="172.5" cy="416.2" r="0.60" fill="#9c9c50" fill-opacity="0.36"/>
<circle cx="158.8" cy="385.2" r="0.48" fill="#9c9c50" fill-opacity="0.37"/>
<circle cx="184.5" cy="412.5" r="0.73" fill="#9c9c50" fill-opacity="0.34"/>
<circle cx="177.3" cy="398.7" r="0.75" fill="#9c9c50" fill-opacity="0.29"/>
<circle cx="182.1" cy="409.1" r="0.38" fill="#9c9c50" fill-opacity="0.28"/>
<circle cx="181.2" cy="371.0" r="0.70" fill="#9c9c50" fill-opacity="0.43"/>
<circle cx="201.5" cy="387.7" r="0.37" fill="#9c9c50" fill-opacity="0.27"/>
<circle cx="181.1" cy="392.3" r="0.38" fill="#9c9c50" fill-opacity="0.22"/>
<circle cx="187.5" cy="397.6" r="0.46" fill="#9c9c50" fill-opacity="0.55"/>
<circle cx="187.9" cy="367.3" r="0.49" fill="#9c9c50" fill-opacity="0.47"/>
<circle cx="170.1" cy="402.3" r="0.30" fill="#9c9c50" fill-opacity="0.27"/>
<circle cx="199.0" cy="396.7" r="0.60" fill="#9c9c50" fill-opacity="0.23"/>
<circle cx="180.4" cy="394.9" r="0.42" fill="#9c9c50" fill-opacity="0.41"/>
<circle cx="182.2" cy="418.8" r="0.56" fill="#9c9c50" fill-opacity="0.31"/>
<circle cx="194.5" cy="370.8" r="0.35" fill="#9c9c50" fill-opacity="0.22"/>
<circle cx="181.7" cy="409.4" r="0.58" fill="#9c9c50" fill-opacity="0.47"/>
<circle cx="195.1" cy="382.4" r="0.62" fill="#9c9c50" fill-opacity="0.29"/>
<circle cx="162.6" cy="379.4" r="0.34" fill="#9c9c50" fill-opacity="0.51"/>
<circle cx="184.9" cy="383.8" r="0.50" fill="#9c9c50" fill-opacity="0.30"/>
<circle cx="185.0" cy="416.8" r="0.50" fill="#9c9c50" fill-opacity="0.40"/>
<circle cx="170.5" cy="413.5" r="0.67" fill="#9c9c50" fill-opacity="0.27"/>
<circle cx="186.0" cy="416.8" r="0.52" fill="#9c9c50" fill-opacity="0.53"/>
<circle cx="166.6" cy="386.0" r="0.62" fill="#9c9c50" fill-opacity="0.24"/>
<circle cx="170.2" cy="412.3" r="0.52" fill="#9c9c50" fill-opacity="0.47"/>
<circle cx="166.6" cy="374.4" r="0.46" fill="#9c9c50" fill-opacity="0.22"/>
<circle cx="183.8" cy="371.2" r="0.54" fill="#9c9c50" fill-opacity="0.30"/>
<circle cx="175.3" cy="368.5" r="0.36" fill="#9c9c50" fill-opacity="0.48"/>
<circle cx="172.5" cy="378.2" r="0.39" fill="#9c9c50" fill-opacity="0.26"/>
<circle cx="189.4" cy="383.4" r="0.37" fill="#9c9c50" fill-opacity="0.43"/>
<circle cx="158.5" cy="379.6" r="0.68" fill="#9c9c50" fill-opacity="0.20"/>
<circle cx="177.4" cy="410.2" r="0.66" fill="#9c9c50" fill-opacity="0.21"/>
<circle cx="172.6" cy="404.0" r="0.47" fill="#9c9c50" fill-opacity="0.53"/>
<circle cx="180.8" cy="377.3" r="0.50" fill="#9c9c50" fill-opacity="0.20"/>
<circle cx="191.6" cy="379.1" r="0.70" fill="#9c9c50" fill-opacity="0.39"/>
<circle cx="173.4" cy="378.3" r="0.57" fill="#9c9c50" fill-opacity="0.24"/>
<circle cx="181.2" cy="394.3" r="0.42" fill="#9c9c50" fill-opacity="0.46"/>
<circle cx="174.3" cy="400.5" r="0.56" fill="#9c9c50" fill-opacity="0.27"/>
<circle cx="174.6" cy="369.6" r="0.38" fill="#9c9c50" fill-opacity="0.49"/>
<circle cx="170.8" cy="400.8" r="0.35" fill="#9c9c50" fill-opacity="0.37"/>
<circle cx="173.0" cy="392.0" r="0.43" fill="#9c9c50" fill-opacity="0.18"/>
<circle cx="170.3" cy="377.2" r="0.36" fill="#9c9c50" fill-opacity="0.44"/>
<circle cx="168.7" cy="386.8" r="0.71" fill="#9c9c50" fill-opacity="0.46"/>
<circle cx="160.6" cy="379.9" r="0.31" fill="#9c9c50" fill-opacity="0.42"/>
<circle cx="189.3" cy="384.0" r="0.49" fill="#9c9c50" fill-opacity="0.41"/>
<circle cx="191.3" cy="378.4" r="0.68" fill="#9c9c50" fill-opacity="0.29"/>
<circle cx="187.5" cy="374.8" r="0.35" fill="#9c9c50" fill-opacity="0.52"/>
<circle cx="193.1" cy="403.5" r="0.32" fill="#9c9c50" fill-opacity="0.17"/>
<circle cx="162.2" cy="375.7" r="0.44" fill="#9c9c50" fill-opacity="0.30"/>
<circle cx="155.6" cy="381.8" r="0.59" fill="#9c9c50" fill-opacity="0.22"/>
<circle cx="198.8" cy="395.8" r="0.62" fill="#9c9c50" fill-opacity="0.25"/>
<circle cx="177.0" cy="402.0" r="0.46" fill="#9c9c50" fill-opacity="0.15"/>
<circle cx="198.6" cy="406.9" r="0.43" fill="#9c9c50" fill-opacity="0.17"/>
<circle cx="199.6" cy="397.8" r="0.32" fill="#9c9c50" fill-opacity="0.25"/>
<circle cx="159.5" cy="407.7" r="0.39" fill="#9c9c50" fill-opacity="0.52"/>
<circle cx="194.0" cy="369.7" r="0.61" fill="#9c9c50" fill-opacity="0.31"/>
<circle cx="193.9" cy="409.8" r="0.43" fill="#9c9c50" fill-opacity="0.19"/>
<circle cx="204.6" cy="387.9" r="0.72" fill="#9c9c50" fill-opacity="0.43"/>
<circle cx="193.4" cy="409.8" r="0.58" fill="#9c9c50" fill-opacity="0.33"/>
<circle cx="156.4" cy="402.7" r="0.49" fill="#9c9c50" fill-opacity="0.35"/>
<circle cx="191.4" cy="408.5" r="0.42" fill="#9c9c50" fill-opacity="0.37"/>
<circle cx="205.8" cy="399.4" r="0.54" fill="#9c9c50" fill-opacity="0.25"/>
<circle cx="156.7" cy="384.3" r="0.49" fill="#9c9c50" fill-opacity="0.23"/>
<circle cx="170.3" cy="372.4" r="0.62" fill="#9c9c50" fill-opacity="0.42"/>
<circle cx="166.3" cy="378.1" r="0.53" fill="#9c9c50" fill-opacity="0.33"/>
<circle cx="204.0" cy="384.0" r="0.43" fill="#9c9c50" fill-opacity="0.50"/>
<circle cx="161.2" cy="395.4" r="0.45" fill="#9c9c50" fill-opacity="0.48"/>
<circle cx="183.1" cy="406.1" r="0.38" fill="#9c9c50" fill-opacity="0.42"/>
<circle cx="185.8" cy="389.9" r="0.64" fill="#9c9c50" fill-opacity="0.48"/>
<circle cx="159.7" cy="380.6" r="0.46" fill="#9c9c50" fill-opacity="0.23"/>
<circle cx="156.8" cy="380.2" r="0.39" fill="#9c9c50" fill-opacity="0.43"/>
<circle cx="177.7" cy="371.1" r="0.45" fill="#9c9c50" fill-opacity="0.34"/>
<circle cx="173.1" cy="374.1" r="0.33" fill="#9c9c50" fill-opacity="0.15"/>
<circle cx="158.0" cy="403.7" r="0.74" fill="#9c9c50" fill-opacity="0.38"/>
<circle cx="159.4" cy="391.4" r="0.50" fill="#9c9c50" fill-opacity="0.23"/>
<circle cx="182.8" cy="365.4" r="0.71" fill="#9c9c50" fill-opacity="0.41"/>
<circle cx="187.4" cy="415.5" r="0.59" fill="#9c9c50" fill-opacity="0.25"/>
<circle cx="166.8" cy="372.5" r="0.31" fill="#9c9c50" fill-opacity="0.46"/>
<circle cx="198.8" cy="381.0" r="0.38" fill="#9c9c50" fill-opacity="0.41"/>
<circle cx="162.6" cy="407.4" r="0.67" fill="#9c9c50" fill-opacity="0.45"/>
<circle cx="171.1" cy="375.0" r="0.67" fill="#9c9c50" fill-opacity="0.28"/>
<circle cx="173.4" cy="394.8" r="0.47" fill="#9c9c50" fill-opacity="0.48"/>
<circle cx="184.1" cy="398.9" r="0.67" fill="#9c9c50" fill-opacity="0.43"/>
<circle cx="180.2" cy="392.0" r="0.37" fill="#9c9c50" fill-opacity="0.27"/>
<circle cx="184.9" cy="369.3" r="0.61" fill="#9c9c50" fill-opacity="0.22"/>
<circle cx="177.4" cy="417.4" r="0.34" fill="#9c9c50" fill-opacity="0.17"/>
<circle cx="177.2" cy="375.3" r="0.63" fill="#9c9c50" fill-opacity="0.15"/>
<circle cx="198.9" cy="411.2" r="0.65" fill="#9c9c50" fill-opacity="0.32"/>
<circle cx="168.8" cy="400.7" r="0.53" fill="#9c9c50" fill-opacity="0.32"/>
<circle cx="171.8" cy="388.7" r="0.60" fill="#9c9c50" fill-opacity="0.48"/>
<circle cx="169.5" cy="388.9" r="0.55" fill="#9c9c50" fill-opacity="0.29"/>
<circle cx="171.0" cy="389.9" r="0.74" fill="#9c9c50" fill-opacity="0.51"/>
<circle cx="205.4" cy="398.5" r="0.67" fill="#9c9c50" fill-opacity="0.17"/>
<circle cx="190.0" cy="397.9" r="0.43" fill="#9c9c50" fill-opacity="0.38"/>
<circle cx="205.0" cy="391.0" r="0.59" fill="#9c9c50" fill-opacity="0.27"/>
<circle cx="172.0" cy="412.8" r="0.31" fill="#9c9c50" fill-opacity="0.23"/>
<circle cx="190.1" cy="389.2" r="0.34" fill="#9c9c50" fill-opacity="0.41"/>
<circle cx="173.6" cy="396.4" r="0.49" fill="#9c9c50" fill-opacity="0.36"/>
<circle cx="184.0" cy="386.4" r="0.35" fill="#9c9c50" fill-opacity="0.22"/>
<circle cx="201.6" cy="394.6" r="0.35" fill="#9c9c50" fill-opacity="0.49"/>
<circle cx="167.2" cy="370.1" r="0.54" fill="#9c9c50" fill-opacity="0.25"/>
<circle cx="179.9" cy="394.9" r="0.40" fill="#9c9c50" fill-opacity="0.38"/>
<circle cx="159.6" cy="392.7" r="0.56" fill="#9c9c50" fill-opacity="0.18"/>
<circle cx="175.5" cy="369.0" r="0.50" fill="#9c9c50" fill-opacity="0.50"/>
<circle cx="183.2" cy="403.6" r="0.64" fill="#9c9c50" fill-opacity="0.20"/>
<circle cx="174.7" cy="374.2" r="0.73" fill="#9c9c50" fill-opacity="0.38"/>
<circle cx="195.3" cy="372.4" r="0.65" fill="#9c9c50" fill-opacity="0.17"/>
<circle cx="166.3" cy="385.1" r="0.31" fill="#9c9c50" fill-opacity="0.39"/>
<circle cx="165.0" cy="381.2" r="0.62" fill="#9c9c50" fill-opacity="0.32"/>
<circle cx="201.5" cy="398.5" r="0.69" fill="#9c9c50" fill-opacity="0.38"/>
<circle cx="162.6" cy="405.3" r="0.45" fill="#9c9c50" fill-opacity="0.46"/>
<circle cx="190.2" cy="409.6" r="0.36" fill="#9c9c50" fill-opacity="0.30"/>
<circle cx="186.1" cy="370.4" r="0.55" fill="#9c9c50" fill-opacity="0.47"/>
<circle cx="190.0" cy="378.7" r="0.39" fill="#9c9c50" fill-opacity="0.33"/>
<circle cx="198.8" cy="396.4" r="0.35" fill="#9c9c50" fill-opacity="0.16"/>
<circle cx="159.5" cy="408.2" r="0.38" fill="#9c9c50" fill-opacity="0.37"/>
<circle cx="169.2" cy="402.1" r="0.47" fill="#9c9c50" fill-opacity="0.21"/>
<circle cx="200.8" cy="394.1" r="0.61" fill="#9c9c50" fill-opacity="0.47"/>
<circle cx="172.0" cy="373.2" r="0.53" fill="#9c9c50" fill-opacity="0.50"/>
<circle cx="163.3" cy="409.2" r="0.61" fill="#9c9c50" fill-opacity="0.31"/>
<circle cx="179.2" cy="373.5" r="0.68" fill="#9c9c50" fill-opacity="0.31"/>
<circle cx="200.6" cy="398.0" r="0.33" fill="#9c9c50" fill-opacity="0.28"/>
<circle cx="165.2" cy="413.3" r="0.57" fill="#9c9c50" fill-opacity="0.17"/>
<circle cx="162.7" cy="384.5" r="0.51" fill="#9c9c50" fill-opacity="0.38"/>
<circle cx="174.4" cy="384.1" r="0.30" fill="#9c9c50" fill-opacity="0.38"/>
<circle cx="178.3" cy="418.3" r="0.32" fill="#9c9c50" fill-opacity="0.21"/>
</g></g>
<text x="244.1" y="178.9" font-size="12.4" font-weight="bold" text-anchor="start" fill="#000" stroke="#000" stroke-width="0.22">D</text>
<line x1="272.6" y1="263.06" x2="451.4" y2="263.06" stroke="#8e8e8e" stroke-width="1"/>
<line x1="272.6" y1="242.92" x2="451.4" y2="242.92" stroke="#8e8e8e" stroke-width="1"/>
<line x1="272.6" y1="222.78" x2="451.4" y2="222.78" stroke="#8e8e8e" stroke-width="1"/>
<line x1="272.6" y1="202.64" x2="451.4" y2="202.64" stroke="#8e8e8e" stroke-width="1"/>
<line x1="272.6" y1="182.5" x2="451.4" y2="182.5" stroke="#8e8e8e" stroke-width="1"/>
<line x1="274.6" y1="182.5" x2="274.6" y2="283.2" stroke="#8e8e8e" stroke-width="1"/>
<line x1="274.6" y1="283.2" x2="451.4" y2="283.2" stroke="#8e8e8e" stroke-width="1"/>
<line x1="274.6" y1="283.2" x2="274.6" y2="284.7" stroke="#8e8e8e" stroke-width="0.6"/>
<line x1="292.4109414101189" y1="283.2" x2="292.4109414101189" y2="284.7" stroke="#8e8e8e" stroke-width="0.6"/>
<line x1="302.82967423758004" y1="283.2" x2="302.82967423758004" y2="284.7" stroke="#8e8e8e" stroke-width="0.6"/>
<line x1="310.2218828202378" y1="283.2" x2="310.2218828202378" y2="284.7" stroke="#8e8e8e" stroke-width="0.6"/>
<line x1="315.9557252565478" y1="283.2" x2="315.9557252565478" y2="284.7" stroke="#8e8e8e" stroke-width="0.6"/>
<line x1="320.64061564769895" y1="283.2" x2="320.64061564769895" y2="284.7" stroke="#8e8e8e" stroke-width="0.6"/>
<line x1="324.60163403417687" y1="283.2" x2="324.60163403417687" y2="284.7" stroke="#8e8e8e" stroke-width="0.6"/>
<line x1="328.0328242303567" y1="283.2" x2="328.0328242303567" y2="284.7" stroke="#8e8e8e" stroke-width="0.6"/>
<line x1="331.05934847516005" y1="283.2" x2="331.05934847516005" y2="284.7" stroke="#8e8e8e" stroke-width="0.6"/>
<line x1="333.7666666666667" y1="283.2" x2="333.7666666666667" y2="284.7" stroke="#8e8e8e" stroke-width="0.6"/>
<line x1="333.7666666666667" y1="283.2" x2="333.7666666666667" y2="284.7" stroke="#8e8e8e" stroke-width="0.6"/>
<line x1="351.57760807678557" y1="283.2" x2="351.57760807678557" y2="284.7" stroke="#8e8e8e" stroke-width="0.6"/>
<line x1="361.9963409042467" y1="283.2" x2="361.9963409042467" y2="284.7" stroke="#8e8e8e" stroke-width="0.6"/>
<line x1="369.3885494869045" y1="283.2" x2="369.3885494869045" y2="284.7" stroke="#8e8e8e" stroke-width="0.6"/>
<line x1="375.1223919232145" y1="283.2" x2="375.1223919232145" y2="284.7" stroke="#8e8e8e" stroke-width="0.6"/>
<line x1="379.8072823143656" y1="283.2" x2="379.8072823143656" y2="284.7" stroke="#8e8e8e" stroke-width="0.6"/>
<line x1="383.76830070084355" y1="283.2" x2="383.76830070084355" y2="284.7" stroke="#8e8e8e" stroke-width="0.6"/>
<line x1="387.19949089702334" y1="283.2" x2="387.19949089702334" y2="284.7" stroke="#8e8e8e" stroke-width="0.6"/>
<line x1="390.22601514182674" y1="283.2" x2="390.22601514182674" y2="284.7" stroke="#8e8e8e" stroke-width="0.6"/>
<line x1="392.93333333333334" y1="283.2" x2="392.93333333333334" y2="284.7" stroke="#8e8e8e" stroke-width="0.6"/>
<line x1="392.93333333333334" y1="283.2" x2="392.93333333333334" y2="284.7" stroke="#8e8e8e" stroke-width="0.6"/>
<line x1="410.74427474345225" y1="283.2" x2="410.74427474345225" y2="284.7" stroke="#8e8e8e" stroke-width="0.6"/>
<line x1="421.16300757091335" y1="283.2" x2="421.16300757091335" y2="284.7" stroke="#8e8e8e" stroke-width="0.6"/>
<line x1="428.5552161535711" y1="283.2" x2="428.5552161535711" y2="284.7" stroke="#8e8e8e" stroke-width="0.6"/>
<line x1="434.28905858988117" y1="283.2" x2="434.28905858988117" y2="284.7" stroke="#8e8e8e" stroke-width="0.6"/>
<line x1="438.97394898103227" y1="283.2" x2="438.97394898103227" y2="284.7" stroke="#8e8e8e" stroke-width="0.6"/>
<line x1="442.93496736751024" y1="283.2" x2="442.93496736751024" y2="284.7" stroke="#8e8e8e" stroke-width="0.6"/>
<line x1="446.36615756369" y1="283.2" x2="446.36615756369" y2="284.7" stroke="#8e8e8e" stroke-width="0.6"/>
<line x1="449.3926818084934" y1="283.2" x2="449.3926818084934" y2="284.7" stroke="#8e8e8e" stroke-width="0.6"/>
<line x1="452.1" y1="283.2" x2="452.1" y2="284.7" stroke="#8e8e8e" stroke-width="0.6"/>
<text x="268.3" y="286.09999999999997" font-size="7.8" font-weight="bold" text-anchor="end" fill="#000" stroke="#000" stroke-width="0.22">0</text>
<text x="268.3" y="265.96" font-size="7.8" font-weight="bold" text-anchor="end" fill="#000" stroke="#000" stroke-width="0.22">2</text>
<text x="268.3" y="245.82" font-size="7.8" font-weight="bold" text-anchor="end" fill="#000" stroke="#000" stroke-width="0.22">4</text>
<text x="268.3" y="225.68" font-size="7.8" font-weight="bold" text-anchor="end" fill="#000" stroke="#000" stroke-width="0.22">6</text>
<text x="268.3" y="205.54" font-size="7.8" font-weight="bold" text-anchor="end" fill="#000" stroke="#000" stroke-width="0.22">8</text>
<text x="268.3" y="185.4" font-size="7.8" font-weight="bold" text-anchor="end" fill="#000" stroke="#000" stroke-width="0.22">10</text>
<text x="274.6" y="295.7" font-size="7.9" font-weight="bold" text-anchor="middle" fill="#000" stroke="#000" stroke-width="0.22">1</text>
<text x="333.7666666666667" y="295.7" font-size="7.9" font-weight="bold" text-anchor="middle" fill="#000" stroke="#000" stroke-width="0.22">10</text>
<text x="392.93333333333334" y="295.7" font-size="7.9" font-weight="bold" text-anchor="middle" fill="#000" stroke="#000" stroke-width="0.22">100</text>
<text x="452.1" y="295.7" font-size="7.9" font-weight="bold" text-anchor="middle" fill="#000" stroke="#000" stroke-width="0.22">1000</text>
<text x="362.7" y="306.1" font-size="8.3" font-weight="bold" text-anchor="middle" fill="#000" stroke="#000" stroke-width="0.22">Cell number/well</text>
<text x="0" y="0" font-size="8.6" font-weight="bold" text-anchor="middle" fill="#000" stroke="#000" stroke-width="0.22" transform="translate(254.7 232.9) rotate(-90) scale(0.95 1)">Wells containing CAFCs</text>
<polyline points="303.88,283.20 321.69,283.20 339.50,252.99 357.31,242.92 375.12,212.71 392.93,182.50 410.74,182.50 428.56,182.50" fill="none" stroke="#2c4a8c" stroke-width="2" stroke-linejoin="round"/>
<path d="M321.69 280.20L324.69 283.20L321.69 286.20L318.69 283.20Z" fill="#4a78c8"/>
<path d="M339.50 249.99L342.50 252.99L339.50 255.99L336.50 252.99Z" fill="#4a78c8"/>
<path d="M357.31 239.92L360.31 242.92L357.31 245.92L354.31 242.92Z" fill="#4a78c8"/>
<path d="M375.12 209.71L378.12 212.71L375.12 215.71L372.12 212.71Z" fill="#4a78c8"/>
<polyline points="303.88,283.20 321.69,273.13 339.50,252.99 357.31,232.85 375.12,202.64 392.93,182.50 410.74,182.50 428.56,182.50" fill="none" stroke="#7a2222" stroke-width="2" stroke-linejoin="round"/>
<rect x="319.19" y="270.63" width="5" height="5" fill="#8e2a2a"/>
<rect x="337.00" y="250.49" width="5" height="5" fill="#8e2a2a"/>
<rect x="354.81" y="230.35" width="5" height="5" fill="#8e2a2a"/>
<rect x="372.62" y="200.14" width="5" height="5" fill="#8e2a2a"/>
<polyline points="303.88,283.20 321.69,252.99 339.50,232.85 357.31,202.64 375.12,182.50 392.93,182.50 410.74,182.50 428.56,182.50" fill="none" stroke="#6e7e38" stroke-width="2" stroke-linejoin="round"/>
<path d="M321.69 249.79L324.69 255.19L318.69 255.19Z" fill="#7e8e42"/>
<path d="M339.50 229.65L342.50 235.05L336.50 235.05Z" fill="#7e8e42"/>
<path d="M357.31 199.44L360.31 204.84L354.31 204.84Z" fill="#7e8e42"/>
<path d="M375.12 179.30L378.12 184.70L372.12 184.70Z" fill="#7e8e42"/>
<polyline points="392.93,182.50 428.56,182.50" fill="none" stroke="#5a6434" stroke-width="1.7"/>
<rect x="300.98" y="280.30" width="5.8" height="5.8" fill="#646e40" stroke="#4c5530" stroke-width="0.6"/>
<rect x="390.03" y="179.60" width="5.8" height="5.8" fill="#646e40" stroke="#4c5530" stroke-width="0.6"/>
<rect x="407.84" y="179.60" width="5.8" height="5.8" fill="#646e40" stroke="#4c5530" stroke-width="0.6"/>
<rect x="425.66" y="179.60" width="5.8" height="5.8" fill="#646e40" stroke="#4c5530" stroke-width="0.6"/>
<rect x="456.2" y="222" width="62" height="38.4" fill="#fff" stroke="#000" stroke-width="1"/>
<line x1="459" y1="226.9" x2="477.7" y2="226.9" stroke="#34558f" stroke-width="1.3"/>
<path d="M468.3 224.9L470.3 226.9L468.3 228.9L466.3 226.9Z" fill="#4a78c8"/>
<text x="479.6" y="229.6" font-size="7.4" font-weight="bold" text-anchor="start" fill="#000" stroke="#000" stroke-width="0.22">Control</text>
<line x1="459" y1="241" x2="477.7" y2="241" stroke="#5e2020" stroke-width="1.3"/>
<rect x="466.7" y="239.4" width="3.2" height="3.2" fill="#8e2a2a"/>
<text x="479.6" y="243.7" font-size="7.4" font-weight="bold" text-anchor="start" fill="#000" stroke="#000" stroke-width="0.22">HOXB4</text>
<line x1="459" y1="255.0" x2="477.7" y2="255.0" stroke="#6a7a40" stroke-width="1.3"/>
<path d="M468.3 252.8L470.3 256.4L466.3 256.4Z" fill="#7e8e42"/>
<text x="479.6" y="257.7" font-size="7.4" font-weight="bold" text-anchor="start" fill="#000" stroke="#000" stroke-width="0.22">HOXB4(m)</text>
<text x="244.1" y="328.9" font-size="12.4" font-weight="bold" text-anchor="start" fill="#000" stroke="#000" stroke-width="0.22">E</text>
<line x1="276.5" y1="426.1" x2="454.5" y2="426.1" stroke="#c8c8c8" stroke-width="0.9"/>
<text x="269.8" y="429.20000000000005" font-size="7.0" text-anchor="end" fill="#333" stroke="#333" stroke-width="0.22">0</text>
<line x1="276.5" y1="407.0" x2="454.5" y2="407.0" stroke="#c8c8c8" stroke-width="0.9"/>
<text x="269.8" y="410.1" font-size="7.0" text-anchor="end" fill="#333" stroke="#333" stroke-width="0.22">0.1</text>
<line x1="276.5" y1="387.90000000000003" x2="454.5" y2="387.90000000000003" stroke="#c8c8c8" stroke-width="0.9"/>
<text x="269.8" y="391.00000000000006" font-size="7.0" text-anchor="end" fill="#333" stroke="#333" stroke-width="0.22">0.2</text>
<line x1="276.5" y1="368.8" x2="454.5" y2="368.8" stroke="#c8c8c8" stroke-width="0.9"/>
<text x="269.8" y="371.90000000000003" font-size="7.0" text-anchor="end" fill="#333" stroke="#333" stroke-width="0.22">0.3</text>
<line x1="276.5" y1="349.70000000000005" x2="454.5" y2="349.70000000000005" stroke="#c8c8c8" stroke-width="0.9"/>
<text x="269.8" y="352.80000000000007" font-size="7.0" text-anchor="end" fill="#333" stroke="#333" stroke-width="0.22">0.4</text>
<line x1="276.5" y1="330.6" x2="454.5" y2="330.6" stroke="#c8c8c8" stroke-width="0.9"/>
<text x="269.8" y="333.70000000000005" font-size="7.0" text-anchor="end" fill="#333" stroke="#333" stroke-width="0.22">0.5</text>
<line x1="276.5" y1="330.75" x2="276.5" y2="426.1" stroke="#c8c8c8" stroke-width="0.9"/>
<text x="252.0" y="373.9" font-size="9.0" font-weight="bold" text-anchor="middle" fill="#000" stroke="#000" stroke-width="0.22" transform="rotate(-90 252.0 373.9)">% BM MNCs</text>
<defs><linearGradient id="topl" x1="0" y1="0" x2="0" y2="1"><stop offset="0" stop-color="#fff" stop-opacity="0.35"/><stop offset="1" stop-color="#fff" stop-opacity="0"/></linearGradient></defs>
<rect x="282.0" y="418.46000000000004" width="10.2" height="7.640000000000001" fill="url(#eb)"/>
<rect x="282.0" y="418.46000000000004" width="10.2" height="7.640000000000001" fill="url(#topl)"/>
<line x1="287.1" y1="417.12300000000005" x2="287.1" y2="419.415" stroke="#2a2a2a" stroke-width="0.7"/>
<line x1="285.90000000000003" y1="417.12300000000005" x2="288.3" y2="417.12300000000005" stroke="#2a2a2a" stroke-width="0.7"/>
<line x1="285.90000000000003" y1="419.415" x2="288.3" y2="419.415" stroke="#2a2a2a" stroke-width="0.7"/>
<rect x="292.2" y="411.77500000000003" width="10.2" height="14.325" fill="url(#er)"/>
<rect x="292.2" y="411.77500000000003" width="10.2" height="12" fill="url(#topl)"/>
<line x1="297.3" y1="404.13500000000005" x2="297.3" y2="419.033" stroke="#2a2a2a" stroke-width="0.7"/>
<line x1="296.1" y1="404.13500000000005" x2="298.5" y2="404.13500000000005" stroke="#2a2a2a" stroke-width="0.7"/>
<line x1="296.1" y1="419.033" x2="298.5" y2="419.033" stroke="#2a2a2a" stroke-width="0.7"/>
<rect x="302.4" y="355.43" width="10.2" height="70.67" fill="url(#eg)"/>
<rect x="302.4" y="355.43" width="10.2" height="12" fill="url(#topl)"/>
<line x1="307.5" y1="345.88" x2="307.5" y2="364.02500000000003" stroke="#2a2a2a" stroke-width="0.7"/>
<line x1="306.3" y1="345.88" x2="308.7" y2="345.88" stroke="#2a2a2a" stroke-width="0.7"/>
<line x1="306.3" y1="364.02500000000003" x2="308.7" y2="364.02500000000003" stroke="#2a2a2a" stroke-width="0.7"/>
<rect x="327.2" y="405.663" width="10.2" height="20.437" fill="url(#eb)"/>
<rect x="327.2" y="405.663" width="10.2" height="12" fill="url(#topl)"/>
<line x1="332.3" y1="396.113" x2="332.3" y2="414.64000000000004" stroke="#2a2a2a" stroke-width="0.7"/>
<line x1="331.1" y1="396.113" x2="333.5" y2="396.113" stroke="#2a2a2a" stroke-width="0.7"/>
<line x1="331.1" y1="414.64000000000004" x2="333.5" y2="414.64000000000004" stroke="#2a2a2a" stroke-width="0.7"/>
<rect x="337.4" y="361.16" width="10.2" height="64.94" fill="url(#er)"/>
<rect x="337.4" y="361.16" width="10.2" height="12" fill="url(#topl)"/>
<line x1="342.5" y1="338.24" x2="342.5" y2="383.125" stroke="#2a2a2a" stroke-width="0.7"/>
<line x1="341.3" y1="338.24" x2="343.7" y2="338.24" stroke="#2a2a2a" stroke-width="0.7"/>
<line x1="341.3" y1="383.125" x2="343.7" y2="383.125" stroke="#2a2a2a" stroke-width="0.7"/>
<rect x="347.59999999999997" y="389.81" width="10.2" height="36.29" fill="url(#eg)"/>
<rect x="347.59999999999997" y="389.81" width="10.2" height="12" fill="url(#topl)"/>
<line x1="352.7" y1="385.035" x2="352.7" y2="395.54" stroke="#2a2a2a" stroke-width="0.7"/>
<line x1="351.5" y1="385.035" x2="353.9" y2="385.035" stroke="#2a2a2a" stroke-width="0.7"/>
<line x1="351.5" y1="395.54" x2="353.9" y2="395.54" stroke="#2a2a2a" stroke-width="0.7"/>
<rect x="372.4" y="400.88800000000003" width="10.2" height="25.212" fill="url(#eb)"/>
<rect x="372.4" y="400.88800000000003" width="10.2" height="12" fill="url(#topl)"/>
<line x1="377.5" y1="394.394" x2="377.5" y2="407.95500000000004" stroke="#2a2a2a" stroke-width="0.7"/>
<line x1="376.3" y1="394.394" x2="378.7" y2="394.394" stroke="#2a2a2a" stroke-width="0.7"/>
<line x1="376.3" y1="407.95500000000004" x2="378.7" y2="407.95500000000004" stroke="#2a2a2a" stroke-width="0.7"/>
<rect x="382.59999999999997" y="390.192" width="10.2" height="35.908" fill="url(#er)"/>
<rect x="382.59999999999997" y="390.192" width="10.2" height="12" fill="url(#topl)"/>
<line x1="387.7" y1="375.29400000000004" x2="387.7" y2="403.37100000000004" stroke="#2a2a2a" stroke-width="0.7"/>
<line x1="386.5" y1="375.29400000000004" x2="388.9" y2="375.29400000000004" stroke="#2a2a2a" stroke-width="0.7"/>
<line x1="386.5" y1="403.37100000000004" x2="388.9" y2="403.37100000000004" stroke="#2a2a2a" stroke-width="0.7"/>
<rect x="392.79999999999995" y="380.26000000000005" width="10.2" height="45.839999999999996" fill="url(#eg)"/>
<rect x="392.79999999999995" y="380.26000000000005" width="10.2" height="12" fill="url(#topl)"/>
<line x1="397.9" y1="370.13700000000006" x2="397.9" y2="389.428" stroke="#2a2a2a" stroke-width="0.7"/>
<line x1="396.7" y1="370.13700000000006" x2="399.09999999999997" y2="370.13700000000006" stroke="#2a2a2a" stroke-width="0.7"/>
<line x1="396.7" y1="389.428" x2="399.09999999999997" y2="389.428" stroke="#2a2a2a" stroke-width="0.7"/>
<rect x="427.8" y="425.52700000000004" width="10.2" height="0.5730000000000001" fill="url(#er)"/>
<rect x="438.0" y="422.28000000000003" width="10.2" height="3.8200000000000003" fill="url(#eg)"/>
<rect x="438.0" y="422.28000000000003" width="10.2" height="3.8200000000000003" fill="url(#topl)"/>
<line x1="443.1" y1="419.797" x2="443.1" y2="424.19" stroke="#2a2a2a" stroke-width="0.7"/>
<line x1="441.90000000000003" y1="419.797" x2="444.3" y2="419.797" stroke="#2a2a2a" stroke-width="0.7"/>
<line x1="441.90000000000003" y1="424.19" x2="444.3" y2="424.19" stroke="#2a2a2a" stroke-width="0.7"/>
<text x="296.5" y="438.7" font-size="7.0" text-anchor="middle" fill="#222" stroke="#222" stroke-width="0.22">hCD34+</text>
<text x="339.3" y="438.7" font-size="7.0" text-anchor="middle" fill="#222" stroke="#222" stroke-width="0.22">hCD19+</text>
<text x="386" y="438.7" font-size="7.0" text-anchor="middle" fill="#222" stroke="#222" stroke-width="0.22">hCD33+</text>
<text x="432.1" y="438.7" font-size="7.0" text-anchor="middle" fill="#222" stroke="#222" stroke-width="0.22">hCD7+</text>
<rect x="461.5" y="340.4" width="54" height="32" fill="#fff" stroke="#000" stroke-width="1"/>
<rect x="467" y="344.6" width="2.2" height="2.2" fill="#8cb0e6"/>
<text x="476.2" y="348.20000000000005" font-size="7.2" font-weight="bold" text-anchor="start" fill="#000" stroke="#000" stroke-width="0.22">Control</text>
<rect x="467" y="355.5" width="2.2" height="2.2" fill="#e08a84"/>
<text x="476.2" y="359.1" font-size="7.2" font-weight="bold" text-anchor="start" fill="#000" stroke="#000" stroke-width="0.22">HOXB4</text>
<rect x="467" y="366" width="2.2" height="2.2" fill="#d6e894"/>
<text x="476.2" y="369.6" font-size="7.2" font-weight="bold" text-anchor="start" fill="#000" stroke="#000" stroke-width="0.22">HOXB4(m)</text>
</svg>
</body></html>
